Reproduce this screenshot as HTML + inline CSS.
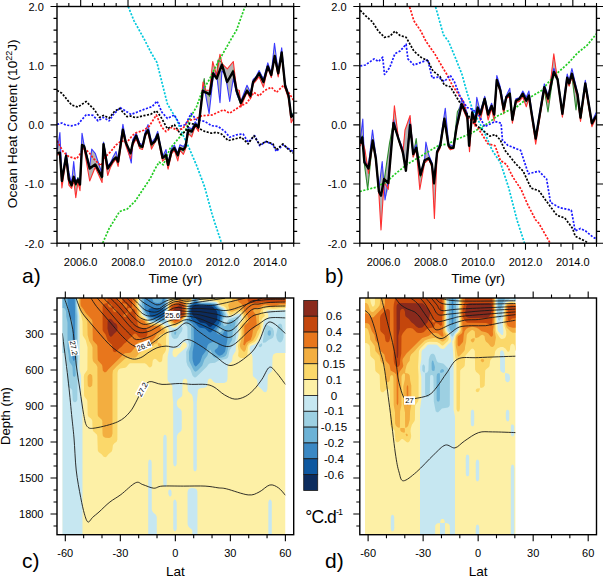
<!DOCTYPE html><html><head><meta charset="utf-8"><style>html,body{margin:0;padding:0;background:#fff;overflow:hidden}svg{display:block}</style></head><body><svg width="603" height="577" viewBox="0 0 603 577" font-family='"Liberation Sans", sans-serif'>
<rect width="603" height="577" fill="#fff"/>
<clipPath id="clip11"><rect x="57.0" y="6.5" width="236.7" height="236.7"/></clipPath>
<g clip-path="url(#clip11)" fill="none" stroke-linejoin="round"><polygon points="57.2,150.9 59.9,132.5 61.9,178.2 66.1,152.8 68.9,172.7 71.6,183.4 73.7,161.6 75.8,182.7 77.9,177.5 80.0,182.0 82.0,133.2 84.1,144.7 89.7,166.7 91.7,149.1 95.2,153.3 102.1,173.7 103.5,142.2 107.7,165.8 110.5,162.7 113.2,156.7 116.0,151.5 118.1,160.0 122.9,124.2 125.7,140.2 130.6,153.3 131.3,149.9 132.8,139.6 136.2,133.3 139.7,143.3 142.5,144.8 145.3,131.8 148.0,124.6 151.5,142.3 155.0,138.4 157.7,131.4 162.6,156.8 166.0,149.5 168.0,162.1 168.1,162.8 171.6,148.2 172.0,147.7 174.4,145.2 177.8,153.1 179.9,144.8 183.4,146.6 185.5,143.6 188.2,126.9 191.7,129.0 195.2,121.8 198.5,125.5 202.8,84.3 203.0,82.1 204.2,78.5 205.4,90.2 209.1,90.3 209.7,90.3 212.7,61.5 213.2,63.3 216.4,72.4 216.7,74.9 218.0,60.0 220.0,54.2 221.9,62.4 224.8,66.4 227.1,68.6 227.3,68.8 229.7,65.9 233.1,61.7 233.3,61.5 236.6,89.4 239.4,90.6 240.9,101.3 247.0,85.2 250.5,92.5 253.1,79.5 255.7,77.2 259.1,70.6 263.5,79.2 267.8,62.9 271.3,73.4 274.5,43.3 274.7,44.8 278.2,71.7 281.7,47.8 285.1,83.8 288.6,94.4 291.2,114.6 293.8,112.5 293.8,117.7 291.2,122.8 288.6,98.9 285.1,88.4 281.7,54.8 278.2,76.9 274.7,58.4 274.5,59.4 271.3,77.6 267.8,67.8 263.5,87.2 259.1,76.7 255.7,81.1 253.1,84.1 250.5,99.0 247.0,92.3 240.9,107.1 239.4,100.8 236.6,93.7 233.3,78.5 233.1,79.8 229.7,101.5 227.3,86.4 227.1,85.2 224.8,74.3 221.9,71.0 220.0,102.7 218.0,85.9 216.7,78.5 216.4,78.1 213.2,76.8 212.7,81.3 209.7,108.2 209.1,113.6 205.4,93.6 204.2,91.6 203.0,90.8 202.8,90.7 198.5,131.4 195.2,126.1 191.7,136.9 188.2,133.3 185.5,149.0 183.4,154.4 179.9,150.2 177.8,160.9 174.4,150.3 172.0,153.2 171.6,153.7 168.1,169.2 168.0,168.6 166.0,157.8 162.6,161.2 157.7,137.1 155.0,142.3 151.5,149.1 148.0,132.4 145.3,136.0 142.5,149.4 139.7,148.4 136.2,138.9 132.8,145.2 131.3,163.0 130.6,160.1 125.7,145.4 122.9,132.3 118.1,166.4 116.0,159.4 113.2,162.6 110.5,167.4 107.7,175.5 103.5,147.0 102.1,182.5 95.2,167.2 91.7,176.0 89.7,181.0 84.1,148.7 82.0,148.5 80.0,190.7 77.9,182.2 75.8,197.6 73.7,180.1 71.6,188.3 68.9,185.2 66.1,158.6 61.9,187.9 59.9,153.9 57.2,155.2" fill="#b4b4b4" stroke="none"/><polyline points="57.2,153.9 59.9,152.9 61.9,183.2 66.1,154.5 68.9,180.3 71.6,187.2 73.7,177.0 75.8,185.8 77.9,177.5 80.0,185.8 82.0,146.5 84.1,144.7 89.7,166.7 95.2,165.5 102.1,179.0 103.5,142.2 107.7,167.5 110.5,164.5 113.2,159.3 116.0,159.4 118.1,163.9 122.9,128.2 125.7,142.7 130.6,153.4 132.8,143.0 136.2,133.6 139.7,147.8 142.5,146.7 145.3,136.0 148.0,129.3 151.5,146.2 155.0,138.9 157.7,135.3 162.6,158.5 166.0,153.3 168.0,168.0 172.0,150.0 174.4,146.5 177.8,155.9 179.9,148.8 183.4,150.8 185.5,145.9 188.2,128.8 191.7,129.8 195.2,123.5 198.5,126.7 202.8,90.2 204.2,78.5 205.4,90.9 209.7,96.4 213.2,74.6 216.7,76.9 218.0,60.0 221.9,62.4 227.1,82.3 233.1,70.1 236.6,92.8 240.9,105.1 247.0,89.8 250.5,95.6 253.1,83.0 255.7,78.3 259.1,71.8 263.5,79.6 267.8,67.4 271.3,74.6 274.7,58.4 278.2,75.4 281.7,54.1 285.1,87.4 288.6,97.2 291.2,114.6 293.8,112.5" stroke="#2e8b2e" stroke-width="1.1"/><polyline points="57.2,150.9 59.9,132.5 61.9,178.2 66.1,152.8 68.9,172.7 71.6,183.4 73.7,161.6 75.8,182.7 77.9,178.2 80.0,182.0 82.0,133.2 84.1,145.2 89.7,166.9 91.7,149.1 95.2,153.3 102.1,173.7 103.5,142.2 107.7,165.8 110.5,162.7 113.2,156.7 116.0,151.5 118.1,160.0 122.9,124.2 125.7,140.2 131.3,163.0 132.8,139.6 136.2,133.3 139.7,143.3 142.5,144.8 145.3,131.8 148.0,124.6 151.5,142.3 155.0,138.4 157.7,131.4 162.6,156.8 166.0,149.5 168.1,162.8 171.6,148.2 174.4,145.2 177.8,153.1 179.9,144.8 183.4,146.6 185.5,143.6 188.2,126.9 191.7,129.0 195.2,121.8 198.5,125.5 203.0,85.8 205.4,93.6 209.1,113.6 213.2,76.8 216.4,72.4 220.0,102.7 221.9,71.0 224.8,73.6 227.1,85.2 229.7,101.5 233.3,78.5 236.6,93.7 239.4,100.3 240.9,101.3 247.0,85.2 250.5,92.5 253.1,79.5 255.7,77.2 259.1,70.6 263.5,79.2 267.8,62.9 271.3,73.4 274.5,43.3 278.2,71.7 281.7,47.8 285.1,83.8 288.6,94.4 291.2,115.0 293.8,113.7" stroke="#3a3aff" stroke-width="1.1"/><polyline points="57.2,155.2 59.9,153.9 61.9,187.9 66.1,158.6 68.9,185.2 71.6,188.3 73.7,180.1 75.8,197.6 77.9,182.2 80.0,190.7 82.0,148.5 84.1,148.7 89.7,181.0 95.2,167.2 102.1,182.5 103.5,147.0 107.7,175.5 110.5,167.4 113.2,162.6 116.0,159.4 118.1,166.4 122.9,132.3 125.7,145.4 130.6,158.7 132.8,145.2 136.2,138.9 139.7,148.4 142.5,149.4 145.3,136.0 148.0,132.4 151.5,149.1 155.0,142.3 157.7,137.1 162.6,161.2 166.0,157.8 168.1,169.2 171.6,153.7 174.4,150.3 177.8,160.9 179.9,150.2 183.4,154.4 185.5,149.0 188.2,133.3 191.7,136.9 195.2,126.1 198.5,131.4 203.0,82.1 205.4,90.2 209.7,90.3 212.7,61.5 216.7,75.7 220.0,54.2 221.9,63.6 227.3,68.8 233.3,61.5 236.6,89.4 239.4,90.6 240.9,107.1 247.0,92.3 250.5,99.0 253.1,84.1 255.7,81.1 259.1,76.7 263.5,87.2 267.8,67.8 271.3,77.6 274.7,57.4 278.2,76.9 281.7,54.8 285.1,88.4 288.6,98.9 291.2,122.8 293.8,117.7" stroke="#ff3030" stroke-width="1.1"/><polyline points="128.2,6.6 134.0,20.8 144.4,39.5 150.7,52.0 156.9,62.4 163.2,87.4 167.4,103.9 173.6,114.4 175.8,117.7 182.7,134.4 189.0,147.8 196.8,166.0 204.6,186.8 212.4,215.4 221.5,243.0" stroke="#00c8dc" stroke-width="1.7" stroke-dasharray="2.1 1.5"/><polyline points="102.7,243.0 109.2,228.4 119.6,211.5 127.4,208.9 135.2,201.1 145.6,185.5 150.0,179.0 155.0,169.0 159.1,162.1 163.3,164.9 170.2,148.2 178.5,138.5 185.5,130.2 191.0,116.3 196.6,106.6 201.9,92.0 208.9,80.3 215.8,66.4 224.5,50.8 231.4,38.7 236.6,30.0 245.0,6.5" stroke="#22cc22" stroke-width="1.7" stroke-dasharray="2.1 1.5"/><polyline points="57.1,140.8 63.3,151.9 68.9,156.7 76.5,158.8 82.7,150.5 85.5,149.1 89.7,153.3 93.8,158.8 98.0,163.0 100.8,165.8 104.9,157.4 110.5,151.9 116.0,145.0 121.5,140.8 127.1,142.2 132.6,135.3 135.5,133.0 143.9,130.2 149.4,126.0 156.3,115.0 161.9,127.4 166.0,131.6 171.6,127.4 177.1,130.2 182.7,128.8 188.2,120.5 195.2,119.1 201.9,115.8 212.3,114.9 223.6,109.7 229.7,113.2 240.1,106.3 247.0,102.8 253.9,92.4 259.1,95.9 264.3,90.7 271.3,87.2 276.5,92.4 283.4,85.5 288.6,92.4 294.0,101.0" stroke="#ff1a1a" stroke-width="1.7" stroke-dasharray="2.1 1.5"/><polyline points="57.1,124.4 61.9,123.0 66.1,125.1 71.6,125.8 77.9,124.4 86.2,114.7 93.1,115.4 98.0,120.9 103.5,117.4 109.1,120.9 113.2,114.7 120.2,107.7 127.1,111.9 131.0,114.5 136.9,112.2 143.9,109.4 152.2,106.6 157.0,101.1 161.9,112.2 167.4,118.4 174.4,115.0 180.6,126.0 185.5,124.7 191.0,113.6 196.6,119.8 198.3,119.9 205.0,121.6 211.6,125.7 218.2,126.5 224.9,131.5 229.8,137.3 236.5,134.8 243.1,134.0 248.1,142.3 254.7,135.7 259.7,145.6 266.3,141.5 272.9,144.8 276.3,151.4 282.9,144.8 292.8,151.4" stroke="#1a1aff" stroke-width="1.7" stroke-dasharray="2.1 1.5"/><polyline points="57.1,90.4 61.9,93.2 67.5,100.1 71.6,105.0 77.9,107.0 86.2,101.5 94.5,109.8 99.4,117.4 103.5,115.4 109.1,118.1 114.6,111.2 119.5,108.4 127.1,116.7 130.6,116.0 135.5,117.7 143.9,115.6 150.8,114.3 156.3,110.8 160.5,116.3 167.4,128.8 174.4,124.7 180.6,134.4 185.5,131.6 189.6,123.3 196.6,124.7 198.3,128.2 205.0,131.5 211.6,133.2 216.6,132.3 221.5,134.0 228.2,140.6 234.8,139.0 241.4,137.3 248.1,143.9 253.9,135.7 259.7,144.8 266.3,141.5 272.9,143.9 276.3,149.8 282.9,143.9 287.9,148.9 292.8,153.1" stroke="#000" stroke-width="1.7" stroke-dasharray="2.1 1.5"/><polyline points="57.2,153.3 59.9,152.6 61.9,181.0 66.1,156.0 68.9,179.6 71.6,185.2 73.7,176.8 75.8,183.8 77.9,179.6 80.0,184.5 82.0,145.0 84.1,146.3 89.7,168.5 95.2,164.4 102.1,176.8 103.5,144.3 107.7,168.5 110.5,164.4 113.2,160.2 116.0,157.4 118.1,161.6 122.9,129.7 125.7,142.2 130.6,153.3 132.8,142.7 136.2,135.8 139.7,145.5 142.5,146.8 145.3,134.4 148.0,130.2 151.5,144.1 155.0,141.3 157.7,134.4 162.6,157.9 166.0,155.2 168.1,164.9 171.6,151.0 174.4,148.2 177.8,155.2 179.9,148.2 183.4,149.6 185.5,146.8 188.2,130.2 191.7,131.6 195.2,124.7 198.5,127.1 202.8,90.7 205.4,92.4 209.7,94.1 213.2,73.3 216.7,78.5 221.9,64.7 227.1,82.0 233.1,71.6 236.6,90.7 240.9,102.8 247.0,90.7 250.5,95.9 253.1,82.0 255.7,78.5 259.1,73.3 263.5,82.0 267.8,66.4 271.3,75.1 274.7,56.0 278.2,73.3 281.7,52.5 285.1,85.5 288.6,95.9 291.2,116.7 293.8,114.9" stroke="#000" stroke-width="2.4"/></g>
<clipPath id="clip12"><rect x="359.8" y="6.5" width="236.7" height="236.7"/></clipPath>
<g clip-path="url(#clip12)" fill="none" stroke-linejoin="round"><polygon points="360.2,141.1 362.3,123.3 362.8,119.1 364.4,148.0 365.0,150.0 367.7,164.6 368.5,165.6 372.5,130.0 372.7,131.5 375.8,155.5 378.9,189.4 381.0,171.6 382.2,161.5 384.1,179.0 385.0,174.8 388.3,151.7 389.5,143.3 393.5,118.1 394.4,105.8 398.7,138.5 402.8,148.7 405.0,130.0 405.9,127.4 410.1,115.5 413.2,152.0 416.2,138.5 416.3,139.4 419.8,168.6 420.5,173.4 424.6,159.2 425.9,142.1 428.8,155.0 431.9,162.4 434.0,181.0 434.4,177.1 437.1,150.9 440.2,142.3 444.4,114.2 445.3,108.2 448.6,143.8 450.4,145.1 453.5,146.2 456.6,118.9 457.4,111.8 461.8,98.5 467.3,113.2 469.1,143.5 469.5,139.1 472.2,109.1 475.1,118.6 476.8,97.3 477.7,101.0 480.3,111.8 484.7,96.3 488.1,111.9 491.6,103.2 494.2,112.8 496.8,75.5 500.3,86.9 503.7,106.0 506.3,95.7 509.8,88.2 512.4,118.0 515.9,98.8 519.3,97.9 522.8,91.0 526.3,97.2 528.9,91.0 531.5,109.8 535.7,136.0 544.3,83.8 548.0,95.7 548.1,96.0 553.8,53.8 557.6,77.4 562.4,110.7 567.2,74.0 569.1,80.7 571.9,68.5 576.0,86.2 577.6,93.2 580.5,115.0 585.3,80.4 591.9,121.8 596.2,112.4 596.2,117.6 591.9,126.7 585.3,86.5 580.5,121.4 577.6,97.6 576.0,110.0 571.9,76.9 569.1,86.1 567.2,79.9 562.4,117.2 557.6,81.0 553.8,71.9 548.1,111.3 548.0,112.0 544.3,89.5 535.7,144.2 531.5,115.3 528.9,98.1 526.3,106.8 522.8,96.9 519.3,101.4 515.9,103.0 512.4,123.2 509.8,96.1 506.3,98.5 503.7,113.8 500.3,92.1 496.8,81.8 494.2,120.9 491.6,108.6 488.1,120.0 484.7,101.2 480.3,120.4 477.7,109.7 476.8,115.5 475.1,126.4 472.2,114.7 469.5,151.8 469.1,145.9 467.3,119.6 461.8,106.3 457.4,125.3 456.6,128.7 453.5,148.8 450.4,149.6 448.6,147.6 445.3,126.0 444.4,120.1 440.2,147.9 437.1,153.9 434.4,218.5 434.0,210.3 431.9,167.1 428.8,159.4 425.9,161.9 424.6,163.0 420.5,185.6 419.8,189.4 416.3,149.8 416.2,150.0 413.2,157.1 410.1,125.0 405.9,170.7 405.0,165.3 402.8,153.8 398.7,140.8 394.4,125.8 393.5,122.9 389.5,172.9 388.3,189.3 385.0,200.0 384.1,187.6 382.2,211.4 381.0,229.9 378.9,193.9 375.8,160.1 372.7,143.0 372.5,144.4 368.5,181.6 367.7,189.4 365.0,168.8 364.4,164.2 362.8,143.4 362.3,140.8 360.2,146.3" fill="#b4b4b4" stroke="none"/><polyline points="360.2,142.0 362.3,135.9 364.4,164.2 367.7,189.4 372.7,140.6 375.8,158.2 378.9,192.2 381.0,195.7 384.1,181.1 389.5,143.3 393.5,122.5 398.7,140.8 402.8,149.8 405.9,168.5 410.1,123.1 413.2,156.4 416.2,138.5 420.5,176.9 424.6,161.6 428.8,157.3 431.9,164.9 434.0,184.5 437.1,151.0 440.2,146.5 444.4,118.6 448.6,147.0 450.4,149.6 453.5,146.3 457.4,111.8 461.8,104.8 467.3,118.6 469.1,145.4 472.2,113.2 475.1,122.0 477.7,106.6 480.3,113.7 484.7,97.3 488.1,113.6 491.6,108.1 494.2,115.3 496.8,80.6 500.3,88.3 503.7,111.7 506.3,96.9 509.8,92.4 512.4,120.4 515.9,103.0 519.3,98.4 522.8,94.8 526.3,100.8 528.9,96.3 531.5,112.1 535.7,140.6 544.3,89.5 548.0,112.0 553.8,70.7 557.6,77.4 562.4,112.2 567.2,77.0 569.1,85.6 571.9,75.6 576.0,110.0 577.6,94.9 580.5,119.8 585.3,84.9 591.9,125.4 596.2,114.2" stroke="#2e8b2e" stroke-width="1.1"/><polyline points="360.2,141.1 362.8,119.1 364.4,160.5 368.5,165.6 372.5,130.0 375.8,155.5 378.9,189.4 382.2,161.5 385.0,200.0 388.3,180.5 393.5,119.1 398.7,138.5 402.8,148.7 405.9,169.5 410.1,118.6 413.2,152.0 416.3,144.8 420.5,173.4 424.6,159.2 425.9,142.1 428.8,155.0 431.9,162.4 434.0,181.0 437.1,150.9 440.2,142.3 445.3,108.2 448.6,143.8 450.4,145.1 453.5,146.2 456.6,124.7 461.8,98.5 467.3,113.2 469.1,143.5 472.2,109.1 475.1,118.6 476.8,97.3 480.3,111.8 484.7,96.3 488.1,111.9 491.6,103.2 494.2,112.8 496.8,75.5 500.3,86.9 503.7,106.0 506.3,95.7 509.8,88.2 512.4,118.0 515.9,98.8 519.3,97.9 522.8,91.0 526.3,97.2 528.9,91.0 531.5,109.8 535.7,136.0 544.3,83.8 548.1,96.0 553.8,68.3 557.6,78.2 562.4,110.7 567.2,74.0 569.1,80.7 571.9,68.5 577.6,93.2 580.5,115.0 585.3,80.4 591.9,121.8 596.2,112.4" stroke="#3a3aff" stroke-width="1.1"/><polyline points="360.2,146.3 362.3,140.8 365.0,150.0 368.5,173.5 372.7,143.0 375.8,160.1 378.9,193.9 381.0,229.9 384.1,182.0 388.3,189.3 394.4,105.8 398.7,140.7 402.8,153.8 405.0,130.0 410.1,115.5 413.2,157.1 416.3,149.8 419.8,189.4 424.6,163.0 428.8,159.4 431.9,167.1 434.4,218.5 437.1,153.9 440.2,147.9 444.4,120.1 448.6,147.6 450.4,149.6 453.5,148.8 456.6,128.7 461.8,106.3 467.3,119.6 469.5,151.8 472.2,114.7 475.1,126.4 477.7,109.7 480.3,120.4 484.7,101.2 488.1,120.0 491.6,108.6 494.2,120.9 496.8,81.8 500.3,92.1 503.7,113.8 506.3,98.5 509.8,96.1 512.4,123.2 515.9,102.4 519.3,101.4 522.8,96.9 526.3,106.8 528.9,98.1 531.5,115.3 535.7,144.2 544.3,88.9 548.1,102.7 553.8,53.8 557.6,81.0 562.4,117.2 567.2,79.9 569.1,86.1 571.9,76.9 577.6,97.6 580.5,121.4 585.3,86.5 591.9,126.7 596.2,117.6" stroke="#ff3030" stroke-width="1.1"/><polyline points="435.6,6.9 443.4,34.7 448.6,41.6 455.2,57.3 462.1,74.7 467.3,93.7 472.5,109.3 477.4,118.7 485.8,135.4 492.0,149.9 500.3,162.4 508.6,187.4 517.0,220.0 524.5,243.2" stroke="#00c8dc" stroke-width="1.7" stroke-dasharray="2.1 1.5"/><polyline points="359.8,191.5 367.5,189.4 375.8,187.3 386.2,182.1 396.6,172.8 407.0,164.4 417.4,158.2 427.8,152.0 438.2,145.7 448.6,143.7 455.2,140.0 462.1,137.1 470.8,133.6 479.5,128.4 488.1,123.2 496.8,116.3 507.2,111.1 515.9,107.6 524.5,100.7 533.2,95.5 541.9,90.3 549.1,81.5 558.6,71.9 568.1,63.4 577.6,52.9 587.2,45.2 596.7,33.5" stroke="#22cc22" stroke-width="1.7" stroke-dasharray="2.1 1.5"/><polyline points="409.6,6.9 413.9,20.8 420.9,31.2 426.1,41.6 434.7,53.7 441.7,65.9 446.9,74.5 452.1,84.9 456.9,92.0 463.9,102.4 467.0,116.6 477.4,127.0 487.8,143.7 495.1,145.8 500.3,160.3 506.6,164.5 512.8,177.0 521.1,189.4 527.4,204.0 535.7,220.0 538.8,223.2 549.2,241.4 550.0,243.2" stroke="#ff1a1a" stroke-width="1.7" stroke-dasharray="2.1 1.5"/><polyline points="360.2,65.9 365.4,65.0 374.1,58.9 378.4,61.5 382.7,57.2 384.5,74.5 389.7,67.6 394.9,53.7 400.1,51.1 406.1,44.2 407.9,58.9 413.9,65.0 420.9,62.4 427.8,59.8 432.1,78.0 438.2,77.1 444.3,81.5 450.3,75.4 454.3,81.6 460.4,97.2 467.3,107.6 472.5,109.3 478.6,114.5 484.7,126.7 495.1,121.5 501.1,123.2 502.4,140.0 507.6,145.2 520.6,150.4 528.4,173.8 538.8,171.2 546.6,179.0 550.5,202.4 559.6,207.6 571.3,210.2 575.2,231.0 580.4,228.4 585.6,231.0 593.4,237.5 596.7,238.8" stroke="#1a1aff" stroke-width="1.7" stroke-dasharray="2.1 1.5"/><polyline points="360.2,10.4 365.4,15.6 372.3,21.7 378.4,31.2 384.5,37.3 389.7,36.4 394.9,31.2 400.1,35.5 406.1,37.3 413.9,51.1 420.9,57.2 427.8,60.7 433.0,71.1 439.9,76.3 444.3,84.9 450.3,86.7 458.7,100.7 467.3,114.5 476.0,124.9 484.7,131.9 489.9,136.2 495.1,134.5 500.3,140.0 505.0,150.4 515.4,163.4 523.2,171.2 531.0,188.1 538.8,190.7 549.2,205.0 557.0,215.4 564.8,218.0 572.6,228.4 575.2,236.2 585.6,241.4 588.0,243.2" stroke="#000" stroke-width="1.7" stroke-dasharray="2.1 1.5"/><polyline points="360.2,143.7 362.3,137.4 364.4,162.4 368.5,168.6 372.7,140.5 375.8,158.2 378.9,191.5 381.0,195.6 384.1,179.0 388.3,183.2 393.5,122.9 398.7,139.5 402.8,152.0 405.9,170.7 410.1,125.0 413.2,154.1 416.3,147.8 420.5,174.8 424.6,160.3 428.8,158.2 431.9,164.4 434.0,183.2 437.1,152.0 440.2,145.7 444.4,118.7 448.6,145.7 450.4,147.8 453.5,147.8 456.6,127.0 461.8,104.2 467.3,116.3 469.1,145.8 472.2,112.5 475.1,121.5 477.7,107.6 480.3,114.5 484.7,98.9 488.1,114.5 491.6,105.9 494.2,114.5 496.8,79.9 500.3,90.3 503.7,109.3 506.3,97.2 509.8,93.7 512.4,119.7 515.9,100.7 519.3,98.9 522.8,93.7 526.3,100.7 528.9,95.5 531.5,112.8 535.7,138.6 544.3,87.2 548.1,98.6 553.8,71.9 557.6,79.6 562.4,113.9 567.2,77.6 569.1,83.4 571.9,73.8 577.6,94.8 580.5,117.7 585.3,83.4 591.9,123.4 596.2,115.8" stroke="#000" stroke-width="2.4"/></g>
<clipPath id="fc"><rect x="62.5" y="298.0" width="223.0" height="236.7"/></clipPath><g clip-path="url(#fc)"><rect x="62.5" y="298.0" width="223.0" height="236.7" fill="#fdf0a6"/><path fill="#c6e7f1" fill-rule="evenodd" d="M61.2,295.5L77.5,295.5L77.6,305.3L79.5,316.4L79.8,357.1L79.5,369.4L81.1,375.5L81.2,395.2L82.5,402.6L82.5,540.5L60.0,540.5L60.0,295.5L61.2,295.5ZM139.9,295.5L168.6,295.5L168.5,300.4L167.5,306.6L167.6,321.4L168.2,323.6L169.4,325.0L171.9,327.3L173.2,327.7L175.6,327.6L176.8,327.1L179.3,325.0L181.8,323.8L182.8,322.6L183.9,320.1L186.7,317.1L187.3,315.2L187.7,305.3L188.1,304.1L191.0,301.7L191.9,300.4L192.2,295.5L198.9,295.5L199.0,299.3L199.5,300.4L201.4,301.3L212.5,301.5L216.2,302.1L217.4,302.9L219.9,306.1L223.5,307.8L224.8,308.9L226.4,311.5L228.5,316.2L229.7,316.9L232.1,316.4L238.3,313.7L239.6,313.6L241.3,315.2L241.6,316.4L241.4,318.9L238.4,325.0L238.6,334.9L236.1,344.7L235.7,350.9L232.7,355.8L232.1,360.8L231.3,362.0L228.5,364.2L227.7,365.7L227.5,379.2L226.6,381.7L224.8,382.8L223.6,383.0L216.0,382.9L213.7,382.1L211.5,379.2L210.1,378.6L208.8,379.0L207.8,380.4L207.3,385.4L206.4,386.9L204.4,387.8L200.2,388.2L198.7,389.1L197.9,390.3L196.8,402.6L196.8,467.9L196.5,470.3L195.3,471.4L194.1,471.0L193.6,470.3L193.3,467.9L193.3,402.6L192.6,396.5L191.6,394.4L188.3,391.5L187.7,390.3L187.2,380.4L186.7,379.6L185.5,378.7L184.2,378.8L183.0,380.1L182.6,381.7L182.3,395.2L181.7,396.5L178.1,399.3L176.9,401.4L176.8,403.8L177.3,406.3L178.2,407.5L180.5,409.3L181.7,411.2L181.8,428.5L181.2,430.9L178.1,433.6L176.9,435.9L176.7,464.2L175.6,466.2L174.4,466.2L173.7,465.4L173.2,462.9L173.2,402.6L172.5,395.2L172.4,386.6L171.4,384.1L168.4,381.7L167.5,379.2L167.6,357.1L169.0,349.7L168.8,336.1L169.1,330.0L168.1,327.5L162.1,323.7L159.6,323.1L152.2,322.8L149.8,322.2L148.6,321.3L146.1,318.1L142.7,315.2L141.2,310.3L138.8,305.3L139.4,295.5L139.9,295.5ZM184.1,342.3L183.0,342.6L182.1,343.5L180.5,347.2L179.3,347.9L174.7,348.4L173.2,349.7L172.5,352.1L172.6,354.6L172.9,355.8L174.1,357.1L175.6,357.2L176.8,356.3L178.1,354.6L186.3,347.2L186.9,346.0L186.7,344.1L185.5,342.6L184.1,342.3ZM269.1,310.3L290.0,310.0L290.0,353.0L276.5,353.0L274.9,353.4L273.3,354.6L272.5,357.1L272.2,370.6L271.5,371.8L268.4,374.3L267.8,375.5L267.4,389.1L266.6,391.5L265.4,392.3L264.2,392.1L263.4,391.5L261.4,389.1L258.4,386.6L257.7,385.4L257.2,380.4L256.5,379.2L253.5,376.8L252.8,375.5L252.5,357.1L251.8,354.6L249.8,350.9L249.7,348.4L250.4,346.0L255.6,343.9L258.0,341.5L259.9,338.6L262.1,332.4L263.8,321.4L264.6,320.1L267.8,317.7L268.4,316.4L268.2,314.0L266.2,311.5L266.6,310.7L269.1,310.3ZM164.5,434.7L165.8,434.9L166.4,435.9L166.7,438.3L166.7,483.9L166.6,485.1L165.8,486.5L164.5,486.4L163.5,485.1L163.2,482.6L163.2,438.3L163.6,435.9L164.5,434.7ZM149.8,459.6L151.3,460.5L151.7,462.9L151.8,509.7L152.9,512.2L155.9,514.7L156.8,517.1L156.8,540.5L148.2,540.5L148.2,462.9L148.6,460.6L149.8,459.6ZM189.1,488.7L191.6,488.0L195.3,488.4L196.5,489.3L197.4,491.3L197.5,540.5L192.5,540.5L192.3,530.7L191.6,529.3L188.7,527.0L187.6,524.5L187.5,492.5L188.0,490.0L189.1,488.7ZM169.5,489.4L170.7,489.8L171.5,491.3L171.6,494.9L170.7,496.5L169.3,496.2L168.3,493.7L168.3,491.3L168.7,490.0L169.5,489.4ZM174.4,499.5L175.8,499.9L176.7,502.3L176.8,528.2L176.6,529.4L175.6,531.2L174.4,531.2L173.8,530.7L173.2,528.2L173.3,502.3L173.4,501.1L174.4,499.5ZM270.3,499.6L271.6,501.0L271.8,502.3L271.8,540.5L268.3,540.5L268.3,502.3L269.1,500.0L270.3,499.6Z"/><path fill="#9dd0e2" fill-rule="evenodd" d="M61.2,295.5L76.7,295.5L76.8,305.3L78.1,316.4L78.1,359.5L77.5,368.1L78.5,376.8L77.5,381.7L77.3,400.1L76.0,402.0L74.8,402.3L73.5,401.7L72.7,400.1L72.2,390.3L71.4,389.1L68.6,386.9L67.7,385.4L67.5,366.9L66.4,362.0L65.9,355.8L64.9,353.8L63.7,353.1L60.0,353.0L60.0,295.5L61.2,295.5ZM141.2,295.5L167.5,295.5L167.4,300.4L166.8,305.3L166.8,316.4L166.5,320.1L165.8,322.7L164.5,323.2L160.9,322.4L152.2,321.9L150.2,321.4L148.8,320.1L143.6,314.2L142.0,309.0L140.1,305.3L140.8,300.4L140.9,295.5L141.2,295.5ZM194.1,295.5L197.9,295.5L198.3,300.4L200.2,302.0L215.0,302.7L217.1,304.1L219.0,306.6L223.0,309.0L224.9,311.5L226.4,315.2L226.3,316.4L224.0,318.9L223.4,320.1L223.6,322.2L224.8,323.6L226.0,323.4L228.5,319.6L229.5,318.9L238.3,316.3L239.0,317.7L237.0,325.0L235.9,338.0L235.3,341.1L234.7,342.6L229.7,350.0L228.2,357.1L227.3,358.2L226.0,359.0L218.7,360.5L215.0,362.8L210.2,363.2L208.8,363.9L206.5,366.9L201.4,372.0L196.5,376.8L195.3,377.4L194.1,377.2L192.5,375.5L190.4,369.5L187.6,365.7L186.4,362.0L186.2,352.1L186.5,350.9L188.4,347.2L189.0,344.7L187.5,338.6L187.4,327.5L187.0,326.3L184.6,323.8L184.3,322.6L185.0,320.1L186.7,318.4L187.7,316.4L187.9,309.0L188.4,305.3L189.1,304.0L192.0,301.7L192.8,299.2L192.9,295.5L194.1,295.5ZM280.2,323.6L281.4,324.2L282.0,325.0L283.7,334.9L283.5,337.4L282.6,340.2L281.4,341.9L280.2,342.4L278.9,342.1L277.7,340.8L276.7,338.6L276.1,334.9L277.3,330.0L278.0,325.0L278.9,324.0L280.2,323.6ZM265.4,325.0L266.6,324.6L272.8,328.3L273.9,331.2L274.0,334.9L273.1,337.4L271.8,338.6L268.9,339.8L265.4,342.5L262.9,342.7L262.8,341.1L265.4,325.0ZM179.3,327.3L180.5,326.4L181.8,326.5L182.4,327.5L182.5,328.7L181.9,331.2L179.3,334.8L178.0,337.4L176.8,338.5L174.4,339.0L173.2,338.5L171.9,337.1L171.3,334.9L171.3,332.4L171.9,330.3L173.2,329.5L178.1,328.3L179.3,327.3ZM261.7,343.3L262.1,343.5L262.2,344.7L261.9,346.0L260.5,347.2L259.3,347.0L258.7,346.0L259.2,344.7L261.7,343.3Z"/><path fill="#6cb2d6" fill-rule="evenodd" d="M61.2,295.5L75.9,295.5L75.9,305.3L76.8,316.4L76.8,358.3L76.5,362.0L75.3,366.9L75.7,374.3L75.6,375.5L74.8,376.8L73.5,376.6L72.9,375.5L72.5,366.9L72.1,365.7L69.6,362.0L68.9,359.5L68.6,354.6L67.5,348.4L67.5,322.6L66.3,316.4L66.1,311.5L64.9,308.7L63.7,308.1L60.0,308.0L60.0,295.5L61.2,295.5ZM143.6,295.5L166.3,295.5L165.9,305.3L166.2,315.2L165.8,318.6L164.5,321.1L163.3,321.5L154.7,321.3L151.0,320.6L149.8,319.8L144.9,313.6L141.9,305.3L142.5,295.5L143.6,295.5ZM194.1,295.5L197.0,295.5L197.3,300.4L199.0,302.3L201.4,303.0L210.1,303.0L215.0,303.7L216.2,304.5L218.7,307.5L222.6,310.3L224.5,314.0L224.8,315.2L222.4,320.1L222.4,322.6L223.6,325.6L224.8,326.2L226.0,325.8L227.3,324.6L229.7,321.0L231.0,320.2L234.7,319.9L235.7,321.4L234.7,327.5L232.7,331.2L232.2,339.8L228.6,346.0L226.9,353.4L225.7,355.8L223.8,357.1L221.1,357.8L215.0,357.8L213.7,357.1L212.7,355.8L211.0,350.9L210.1,349.6L208.8,351.6L207.3,355.8L204.5,359.5L202.2,365.7L197.8,370.2L196.5,371.3L195.3,371.7L194.1,370.8L192.8,368.6L189.1,360.8L188.9,352.1L191.2,344.7L191.1,327.5L190.4,325.0L186.9,322.6L186.2,321.4L187.9,318.3L188.5,316.4L188.5,309.0L189.1,305.3L192.8,301.7L193.6,299.2L193.6,295.5L194.1,295.5ZM219.7,328.7L218.4,330.0L218.4,331.2L219.9,332.3L221.1,331.8L222.0,330.0L221.1,328.6L219.7,328.7ZM175.6,331.2L176.4,332.4L175.6,334.8L174.4,334.4L174.2,333.7L174.4,332.0L175.6,331.2ZM267.9,331.2L269.1,330.2L270.3,330.6L270.7,331.2L270.9,333.7L270.3,335.4L269.1,335.8L267.9,334.9L267.6,333.7L267.9,331.2Z"/><path fill="#3a88c4" fill-rule="evenodd" d="M68.6,295.5L74.7,295.5L75.1,315.2L74.9,358.3L74.8,360.2L73.5,360.9L72.6,358.3L72.6,322.6L72.1,320.1L69.8,317.1L69.1,315.2L68.8,310.3L67.5,302.9L67.5,295.5L68.6,295.5ZM144.9,295.5L152.5,295.5L152.5,299.2L153.4,301.7L154.7,302.6L157.2,303.0L159.6,302.8L161.6,301.7L162.6,299.2L162.6,295.5L164.6,295.5L164.6,304.1L165.5,314.0L164.5,318.4L163.3,319.6L159.6,320.3L154.1,320.1L151.0,319.1L148.6,316.4L145.5,311.5L144.7,309.0L144.1,304.1L144.5,295.5L144.9,295.5ZM195.3,295.5L195.6,295.5L195.6,299.2L196.0,300.4L198.2,302.9L201.4,303.7L210.1,303.8L213.7,304.2L215.0,304.7L217.7,307.8L221.1,310.3L222.4,312.7L222.9,315.2L221.6,318.9L220.9,325.0L216.9,328.7L216.1,331.2L216.4,332.4L217.2,333.7L218.7,334.5L221.1,334.6L222.8,333.7L224.8,330.6L226.0,330.0L227.3,331.2L227.5,337.4L227.4,339.8L225.2,350.9L224.8,352.1L222.6,354.6L219.9,355.7L218.7,355.4L217.3,354.6L214.9,352.1L214.6,350.9L215.0,350.0L217.4,348.1L218.5,346.0L218.4,344.7L217.4,343.0L215.0,341.8L212.5,342.1L210.1,343.0L208.8,343.8L207.6,345.3L205.8,350.9L202.3,355.8L200.2,362.1L196.5,366.1L195.3,366.5L193.9,364.4L192.8,360.8L192.5,358.3L192.6,352.1L193.9,344.7L193.7,326.3L192.4,323.8L189.6,321.4L188.9,320.1L189.3,316.4L189.0,310.3L189.4,306.6L190.0,305.3L192.9,302.9L194.6,300.4L194.9,299.2L195.0,295.5L195.3,295.5ZM231.0,324.8L231.2,325.0L231.0,326.2L230.5,325.0L231.0,324.8Z"/><path fill="#0e58a0" fill-rule="evenodd" d="M195.3,302.3L197.8,303.8L200.2,304.5L210.1,304.7L213.7,305.3L220.2,311.5L220.9,315.2L219.4,322.6L218.7,324.0L216.2,326.3L211.3,332.0L210.1,332.5L208.8,332.1L205.1,328.6L200.2,327.8L199.0,327.3L191.3,318.9L190.4,316.1L189.8,311.5L190.3,306.6L191.3,305.3L195.3,302.3ZM149.8,308.4L152.2,308.0L160.9,308.0L163.3,308.4L164.1,310.3L164.4,312.7L164.1,315.2L163.5,316.4L160.9,317.5L157.2,317.9L154.7,317.7L151.0,316.5L149.8,315.2L148.2,310.3L148.8,309.0L149.8,308.4Z"/><path fill="#0c2c5e" fill-rule="evenodd" d="M195.3,304.8L200.2,305.8L208.8,305.9L212.2,306.6L213.7,307.7L217.0,311.5L217.5,314.0L217.1,320.1L216.2,321.6L211.3,326.4L210.1,327.0L208.8,326.5L206.4,324.0L205.1,323.3L200.2,322.6L192.8,315.5L191.4,312.7L191.2,309.0L191.6,307.7L192.6,306.6L195.3,304.8Z"/><path fill="#fbd86a" fill-rule="evenodd" d="M78.4,295.5L138.1,295.5L137.7,305.3L140.0,310.3L141.0,315.2L142.0,316.4L145.6,318.9L148.6,322.5L149.8,323.2L159.6,323.9L162.1,324.9L166.1,328.7L166.9,330.0L167.2,331.2L166.1,337.4L166.0,349.7L165.1,352.1L163.2,354.6L162.7,355.8L162.1,360.8L161.1,362.0L159.6,362.3L159.0,362.0L155.9,358.9L154.7,358.7L153.5,359.4L152.7,360.8L152.1,365.7L151.0,367.1L149.8,367.4L148.6,366.8L146.7,364.4L144.9,363.2L130.1,363.2L128.9,363.9L126.4,366.9L125.2,367.7L120.3,368.4L119.0,369.2L118.0,370.6L117.5,373.1L117.4,439.5L116.6,441.7L114.1,443.6L112.9,445.3L112.4,449.4L111.7,451.6L108.4,454.3L106.7,456.5L105.5,457.3L103.7,456.8L101.6,454.3L98.6,451.9L97.8,450.6L97.3,435.9L96.8,434.6L93.0,430.9L92.5,428.5L92.3,421.1L91.9,419.8L90.9,418.6L88.3,416.5L87.7,414.9L87.4,401.4L87.1,400.0L84.6,396.7L84.1,395.2L83.8,376.8L84.3,374.3L87.0,370.6L87.4,369.4L87.5,347.2L85.8,340.2L83.1,336.1L82.7,334.9L82.5,321.4L81.1,315.2L78.4,306.2L78.4,295.5ZM170.7,295.5L191.5,295.5L191.4,299.2L191.0,300.4L187.9,302.9L187.2,304.1L186.8,307.8L186.8,314.0L186.3,316.4L183.9,318.9L181.3,322.6L175.6,326.3L174.4,326.4L173.2,326.0L170.7,323.7L168.9,321.4L168.4,318.9L168.2,306.5L170.1,299.2L170.1,295.5L170.7,295.5ZM200.2,295.5L290.0,295.5L290.0,308.0L281.4,308.0L274.0,308.7L266.6,308.3L265.4,308.4L264.0,309.0L263.1,310.3L262.9,311.5L263.2,312.7L264.9,315.2L264.4,316.4L262.8,317.7L261.7,319.4L261.4,327.5L260.5,331.1L257.8,337.4L255.6,341.1L254.1,342.3L249.4,344.4L248.3,346.0L247.7,349.7L247.4,354.6L247.0,356.2L245.7,357.4L244.5,357.9L240.8,357.9L238.9,357.1L238.1,355.8L238.6,350.9L237.8,346.0L240.7,334.9L240.7,331.2L239.9,326.3L240.1,325.0L243.3,320.1L243.1,316.4L242.3,314.0L240.8,312.3L239.6,311.8L234.7,313.1L231.0,314.9L229.7,314.6L226.0,307.7L223.6,306.0L221.1,305.3L219.9,304.1L218.7,301.9L217.4,301.0L213.7,300.4L201.4,300.0L200.4,299.2L200.2,295.5Z"/><path fill="#f3ae40" fill-rule="evenodd" d="M79.7,295.5L136.8,295.5L136.6,305.3L138.6,310.3L139.4,315.2L139.9,316.5L141.2,317.7L144.9,319.5L147.3,322.8L148.6,323.8L151.0,324.4L159.6,324.8L160.9,325.4L164.6,330.0L164.9,331.2L164.5,332.5L163.3,333.6L160.0,334.9L159.0,336.1L157.2,343.2L154.7,343.8L151.2,347.2L149.8,348.1L143.6,349.7L138.7,354.0L136.3,357.1L135.0,357.7L126.4,358.1L125.2,358.4L116.6,366.4L112.9,370.6L112.5,374.3L112.5,433.4L111.7,436.5L110.4,437.5L109.2,437.9L105.5,437.8L103.9,437.1L102.9,435.9L102.5,433.4L102.3,421.1L101.8,419.7L98.1,416.2L97.7,414.9L97.4,366.9L96.2,364.4L93.6,362.0L92.9,360.8L92.5,358.3L92.5,347.2L91.5,344.7L89.2,341.1L87.6,334.9L87.3,321.4L84.6,317.1L79.7,307.2L79.3,305.3L79.2,300.4L79.2,295.5L79.7,295.5ZM176.8,295.5L184.2,295.5L184.2,298.6L185.5,299.9L185.8,295.5L190.6,295.5L190.5,299.2L189.1,300.9L186.7,301.7L186.3,304.1L186.2,314.0L185.5,316.4L182.8,318.9L180.5,322.0L175.6,324.7L174.4,324.8L170.7,321.7L169.5,319.6L168.8,315.2L168.9,307.8L169.5,304.4L170.7,302.2L175.2,300.4L175.9,299.2L176.1,295.5L176.8,295.5ZM233.4,295.5L290.0,295.5L290.0,306.3L281.4,306.3L272.8,307.3L265.4,306.6L264.2,306.9L262.7,307.8L260.9,310.3L259.1,315.2L258.9,320.1L259.8,323.8L259.9,326.3L259.3,328.2L257.3,331.2L255.7,336.1L253.1,340.5L248.2,343.5L246.8,346.0L245.7,349.9L244.5,351.7L243.3,351.5L240.7,348.4L239.8,346.0L239.8,344.7L242.4,336.1L242.5,331.2L241.8,326.3L242.1,325.0L245.3,321.4L245.7,320.1L245.6,318.9L243.2,312.7L240.8,309.6L239.6,308.9L232.2,311.7L231.0,311.8L229.7,310.6L228.2,305.3L228.6,304.1L231.0,302.3L232.2,300.6L232.5,295.5L233.4,295.5ZM158.4,343.1L160.1,343.5L161.5,344.7L161.6,346.0L160.9,347.0L159.6,347.3L158.1,346.0L157.6,343.5L158.4,343.1ZM89.5,374.1L90.7,373.9L92.2,375.5L92.5,380.4L92.2,385.4L90.7,387.1L89.5,387.2L88.3,386.4L87.8,385.4L87.6,380.4L87.6,376.8L88.0,375.5L89.5,374.1Z"/><path fill="#e8761c" fill-rule="evenodd" d="M80.9,295.5L135.4,295.5L135.3,305.3L137.1,310.3L137.6,315.2L138.7,317.9L139.9,319.2L143.6,320.6L144.7,321.4L146.1,323.8L148.6,325.3L151.0,325.8L159.5,326.3L160.5,327.5L161.2,330.0L160.4,331.2L157.2,333.4L154.7,337.7L151.0,341.8L147.3,345.0L146.1,345.8L144.9,345.8L142.4,342.9L141.4,342.3L139.9,342.0L138.6,342.3L137.1,343.5L135.3,347.2L131.3,352.0L130.1,352.7L125.2,353.2L124.0,353.7L108.2,369.4L106.7,371.5L105.5,372.3L104.3,372.2L102.8,370.6L102.3,365.7L101.7,364.4L98.2,360.8L97.7,359.5L97.4,346.0L96.9,344.7L93.4,341.1L92.8,339.8L92.5,322.6L92.1,320.1L85.8,313.1L83.3,309.0L80.9,306.0L80.5,304.1L80.5,300.4L80.5,295.5L80.9,295.5ZM179.3,295.5L180.8,295.5L180.9,299.2L181.6,300.4L184.2,302.7L185.2,304.1L185.5,306.6L185.5,314.3L184.3,316.4L179.6,321.4L175.6,323.0L174.4,322.9L171.3,320.1L170.0,317.7L169.4,314.0L169.8,307.8L170.4,305.3L171.4,304.1L175.6,302.5L178.4,300.4L179.1,299.2L179.3,295.5ZM238.3,295.5L290.0,295.5L290.0,304.2L280.2,304.3L275.2,305.7L272.8,305.8L269.1,305.5L265.4,304.6L264.2,304.7L259.3,307.6L255.6,308.2L253.8,309.0L253.1,310.3L253.4,311.5L255.4,314.0L255.9,315.2L256.8,325.0L256.3,326.3L253.0,330.0L252.1,336.1L250.7,339.8L246.5,342.3L244.5,345.6L243.3,344.7L244.4,336.1L244.3,326.3L245.0,325.0L247.9,322.6L248.5,321.4L248.6,318.9L247.4,315.2L244.2,310.3L242.4,305.3L241.5,304.1L238.4,301.7L237.8,300.4L237.5,295.5L238.3,295.5Z"/><path fill="#c4460c" fill-rule="evenodd" d="M108.0,295.5L117.5,295.5L117.8,300.5L119.0,302.2L121.5,302.9L122.5,301.7L122.5,295.5L132.5,295.5L132.2,307.8L127.6,308.2L127.6,312.7L124.0,313.9L123.3,315.2L123.5,316.4L125.2,317.3L126.4,316.7L127.2,315.2L127.6,312.8L130.1,312.6L131.3,311.8L132.2,310.3L132.6,308.4L133.8,308.7L135.1,310.3L135.7,316.4L137.3,321.4L137.7,325.0L138.2,326.3L139.9,327.7L144.9,328.2L145.9,328.7L147.0,330.0L147.4,331.2L147.5,333.7L146.9,336.1L146.1,337.1L144.9,337.8L139.9,337.7L138.7,337.0L136.3,334.0L135.0,333.6L133.8,334.0L131.3,337.0L128.9,338.8L126.4,341.9L124.0,343.8L121.5,346.8L119.0,348.7L116.6,351.6L115.3,352.3L114.1,352.1L113.0,350.9L111.9,344.7L107.8,341.1L105.5,334.5L103.1,331.2L102.6,330.0L102.6,306.6L103.0,305.0L104.3,303.7L107.5,302.9L107.5,295.5L108.0,295.5ZM107.6,304.1L108.0,305.6L109.2,307.2L112.0,307.8L112.3,306.6L112.1,305.3L111.2,304.1L110.4,303.6L108.0,303.2L107.6,304.1ZM122.6,304.1L122.8,305.3L124.0,307.0L125.2,307.7L127.2,307.8L127.1,305.3L126.3,304.1L124.0,303.2L122.7,303.3L122.6,304.1ZM112.6,309.0L112.9,310.4L114.1,312.0L115.3,312.2L116.5,311.5L116.8,310.3L115.3,308.6L112.9,308.3L112.6,309.0ZM248.2,295.5L290.0,295.5L290.0,301.6L280.2,301.7L272.8,303.0L265.4,301.8L258.0,303.0L250.6,302.9L248.4,301.7L247.7,300.4L247.5,295.5L248.2,295.5ZM179.3,302.6L180.5,302.6L181.8,303.1L184.2,305.2L184.5,314.0L184.1,315.2L181.3,317.7L179.3,320.2L175.6,321.0L174.4,320.5L173.2,319.4L170.7,315.9L170.4,312.7L170.7,309.2L171.9,306.5L173.6,305.3L179.3,302.6Z"/><path fill="#8a2a1c" fill-rule="evenodd" d="M179.3,305.2L180.8,305.3L182.1,306.6L182.2,314.0L179.3,317.2L178.1,317.8L175.6,317.6L173.1,315.2L172.8,311.5L173.2,310.3L174.4,308.8L179.3,305.2ZM109.2,318.9L110.4,318.7L111.7,319.4L114.1,322.4L116.1,323.8L117.0,325.0L117.5,327.5L117.3,330.0L116.6,331.6L114.1,333.7L111.7,336.5L110.4,336.8L109.0,334.9L107.5,328.7L107.6,321.4L108.0,320.1L109.2,318.9Z"/></g>
<g fill="none" stroke="#1a1a1a" stroke-width="0.9" clip-path="url(#fc)"><path d="M62.3,333.2C63.2,340.7 66.4,364.6 67.9,378.1C69.5,391.7 70.6,404.5 71.6,414.5C72.6,424.5 73.2,428.8 74.0,438.0C74.8,447.2 75.1,460.1 76.2,470.0C77.3,479.9 79.3,490.1 80.7,497.4C82.1,504.7 83.2,509.7 84.4,513.8C85.6,517.9 86.6,521.4 88.0,522.0C89.4,522.6 90.8,519.1 92.6,517.4C94.4,515.7 96.1,514.6 99.0,512.0C101.9,509.4 106.2,504.9 109.9,502.0C113.6,499.1 116.6,497.8 120.9,494.6C125.2,491.4 131.8,484.5 135.5,482.8C139.2,481.1 139.8,483.7 142.8,484.6C145.8,485.5 150.5,487.9 153.7,488.2C156.9,488.4 157.0,486.5 162.0,486.1C167.0,485.8 176.4,486.1 183.6,486.1C190.8,486.1 199.4,485.8 205.1,486.1C210.8,486.4 214.4,487.3 218.0,487.8C221.6,488.3 221.7,487.7 226.7,488.9C231.7,490.1 242.8,494.4 248.2,494.9C253.6,495.4 255.4,493.8 259.0,492.1C262.6,490.5 266.6,485.7 269.8,485.0C273.0,484.3 275.8,486.1 278.4,487.8C281.0,489.5 284.3,494.1 285.5,495.4"/><path d="M64.3,298.0C65.1,300.4 67.7,307.3 69.1,312.6C70.5,317.9 71.9,324.2 72.8,329.6C73.7,335.0 73.9,338.9 74.5,345.0C75.1,351.1 75.5,358.5 76.4,366.0C77.3,373.5 78.8,382.1 80.0,390.2C81.2,398.3 82.5,408.4 83.7,414.5C84.9,420.6 85.3,424.4 87.3,426.6C89.3,428.8 90.7,428.7 95.8,427.9C100.9,427.1 112.0,424.4 117.7,421.8C123.4,419.2 126.6,415.8 129.8,412.1C133.0,408.5 135.1,403.5 137.1,399.9C139.1,396.2 140.0,393.2 142.0,390.2C144.0,387.2 145.9,382.7 149.2,381.7C152.5,380.7 157.0,384.1 162.0,384.4C167.0,384.7 174.4,383.5 179.3,383.5C184.2,383.5 187.2,384.2 191.5,384.4C195.8,384.5 201.6,384.0 205.3,384.4C209.1,384.8 210.8,385.3 214.0,387.0C217.2,388.7 220.9,392.8 224.4,394.8C227.9,396.8 231.3,398.8 234.8,399.1C238.3,399.4 242.0,398.1 245.2,396.5C248.4,394.9 251.1,392.5 253.9,389.6C256.7,386.7 259.4,382.9 262.0,379.2C264.6,375.5 267.0,368.4 269.4,367.3C271.8,366.2 273.6,369.6 276.3,372.5C279.0,375.4 284.0,382.6 285.5,384.6"/><path d="M76.0,298.0C76.9,300.2 79.2,307.5 81.2,311.2C83.2,314.9 85.6,317.1 88.1,320.2C90.6,323.3 93.6,326.7 96.4,329.9C99.2,333.1 101.9,336.6 104.7,339.6C107.5,342.6 110.0,345.4 113.0,347.9C116.0,350.4 119.5,352.9 122.8,354.8C126.0,356.7 129.5,358.5 132.5,359.0C135.5,359.5 138.0,358.8 140.8,357.6C143.6,356.5 146.4,353.7 149.1,352.1C151.8,350.5 154.2,348.8 157.0,347.8C159.8,346.8 162.8,346.2 166.0,346.1C169.2,346.0 172.6,348.0 176.0,346.9C179.4,345.8 182.7,339.8 186.7,339.5C190.7,339.2 195.3,342.6 200.0,345.4C204.7,348.1 209.8,352.6 215.0,356.0C220.2,359.4 225.2,365.9 231.0,365.5C236.8,365.1 245.3,357.8 250.0,353.8C254.7,349.8 255.8,346.6 259.0,341.3C262.2,336.0 264.6,323.3 269.0,322.0C273.4,320.7 282.8,331.6 285.5,333.5"/><path d="M90.9,298.0C91.8,299.4 94.1,303.3 96.4,306.3C98.7,309.3 101.9,312.8 104.7,316.0C107.5,319.2 110.0,322.2 113.0,325.7C116.0,329.2 119.5,333.6 122.8,336.8C126.0,340.0 129.6,343.4 132.5,345.1C135.4,346.8 137.0,347.2 140.0,347.0C143.0,346.8 147.7,345.0 150.5,343.8C153.3,342.6 154.4,341.4 157.0,339.6C159.6,337.8 162.8,334.6 166.0,333.0C169.2,331.4 172.6,331.7 176.0,330.0C179.4,328.3 182.7,322.5 186.7,322.9C190.7,323.3 195.3,329.2 200.0,332.4C204.7,335.6 209.8,339.7 215.0,342.0C220.2,344.3 225.2,348.0 231.0,346.0C236.8,344.0 245.3,333.7 250.0,330.0C254.7,326.3 255.8,326.0 259.0,324.0C262.2,322.0 264.6,319.0 269.0,318.0C273.4,317.0 282.8,317.9 285.5,317.9"/><path d="M97.1,298.0C98.4,299.4 102.0,303.3 104.7,306.3C107.4,309.3 110.2,312.8 113.0,316.0C115.8,319.2 118.6,322.7 121.4,325.7C124.2,328.7 127.2,331.7 129.7,334.0C132.2,336.3 133.4,339.1 136.6,339.6C139.8,340.1 145.7,338.0 149.1,336.8C152.5,335.6 154.2,334.3 157.0,332.7C159.8,331.1 162.8,328.4 166.0,327.0C169.2,325.6 172.6,325.2 176.0,324.0C179.4,322.8 182.7,319.6 186.7,319.6C190.7,319.6 195.3,322.1 200.0,324.0C204.7,325.9 209.8,328.8 215.0,331.0C220.2,333.2 225.2,339.2 231.0,337.0C236.8,334.8 245.3,321.8 250.0,318.0C254.7,314.2 255.8,315.0 259.0,314.0C262.2,313.0 264.6,312.5 269.0,312.0C273.4,311.5 282.8,311.2 285.5,311.0"/><path d="M103.3,298.0C104.5,299.1 107.8,302.3 110.3,304.9C112.8,307.4 115.8,310.3 118.6,313.3C121.4,316.3 124.4,320.2 126.9,323.0C129.4,325.8 131.5,328.3 133.8,329.9C136.1,331.5 138.2,332.5 140.8,332.7C143.4,332.9 146.4,332.2 149.1,331.3C151.8,330.4 154.2,328.7 157.0,327.1C159.8,325.6 162.8,323.4 166.0,322.0C169.2,320.6 172.6,320.0 176.0,319.0C179.4,318.0 182.7,316.2 186.7,316.2C190.7,316.2 195.3,317.3 200.0,318.8C204.7,320.3 209.8,323.1 215.0,325.0C220.2,326.9 225.2,332.8 231.0,330.5C236.8,328.2 245.3,314.7 250.0,311.0C254.7,307.3 255.8,309.2 259.0,308.5C262.2,307.8 264.6,306.9 269.0,306.5C273.4,306.1 282.8,306.1 285.5,306.0"/><path d="M110.3,298.0C111.7,299.4 116.1,303.5 118.6,306.3C121.1,309.1 123.2,311.8 125.5,314.6C127.8,317.4 130.4,320.9 132.5,323.0C134.6,325.1 135.7,326.2 138.0,327.1C140.3,328.0 143.1,329.2 146.3,328.5C149.5,327.8 153.7,324.8 157.0,323.0C160.3,321.2 162.8,319.3 166.0,318.0C169.2,316.7 172.6,315.7 176.0,315.0C179.4,314.3 182.7,313.8 186.7,313.8C190.7,313.8 195.3,314.0 200.0,314.9C204.7,315.8 209.8,317.7 215.0,319.0C220.2,320.3 225.2,324.9 231.0,322.7C236.8,320.5 245.3,309.1 250.0,306.0C254.7,302.9 255.8,304.6 259.0,304.0C262.2,303.4 264.6,302.8 269.0,302.5C273.4,302.2 282.8,302.1 285.5,302.0"/><path d="M115.8,298.0C117.0,299.1 120.5,302.3 122.8,304.9C125.1,307.4 127.4,310.8 129.7,313.3C132.0,315.9 134.3,318.4 136.6,320.2C138.9,322.0 141.0,323.8 143.6,324.3C146.2,324.8 149.7,323.7 151.9,323.0C154.1,322.3 154.7,321.5 157.0,320.2C159.3,318.9 162.8,316.5 166.0,315.0C169.2,313.5 172.6,311.6 176.0,311.0C179.4,310.4 182.7,311.2 186.7,311.3C190.7,311.4 195.3,311.2 200.0,311.6C204.7,312.1 209.8,313.2 215.0,314.0C220.2,314.8 225.2,318.2 231.0,316.2C236.8,314.2 245.3,304.6 250.0,302.0C254.7,299.4 255.8,300.9 259.0,300.5C262.2,300.1 264.6,299.7 269.0,299.5C273.4,299.3 282.8,299.3 285.5,299.3"/><path d="M121.4,298.0C122.8,299.4 127.2,303.5 129.7,306.3C132.2,309.1 134.5,312.5 136.6,314.6C138.7,316.7 140.1,317.9 142.2,318.8C144.3,319.7 146.6,320.4 149.1,320.2C151.6,320.0 154.2,318.8 157.0,317.4C159.8,316.0 162.8,313.6 166.0,312.0C169.2,310.4 172.6,308.0 176.0,307.5C179.4,307.0 182.7,308.7 186.7,308.8C190.7,308.9 195.3,308.3 200.0,308.4C204.7,308.5 209.8,309.3 215.0,309.5C220.2,309.7 223.2,311.6 231.0,309.7C238.8,307.8 256.8,300.1 262.0,298.2"/><path d="M126.9,298.0C128.3,299.4 132.6,303.8 135.2,306.3C137.8,308.9 139.9,311.7 142.2,313.3C144.5,314.9 146.6,315.8 149.1,316.0C151.6,316.2 154.2,315.8 157.0,314.6C159.8,313.4 162.8,310.8 166.0,309.0C169.2,307.2 172.6,304.4 176.0,304.0C179.4,303.6 182.7,306.1 186.7,306.3C190.7,306.5 195.3,305.3 200.0,305.1C204.7,304.9 207.5,306.1 215.0,305.0C222.5,303.9 240.0,299.3 245.0,298.2"/><path d="M132.5,298.0C133.7,299.1 137.1,302.8 139.4,304.9C141.7,307.0 143.4,309.3 146.3,310.5C149.2,311.7 153.7,312.6 157.0,311.9C160.3,311.1 162.8,307.7 166.0,306.0C169.2,304.3 172.6,301.9 176.0,301.5C179.4,301.1 182.7,303.7 186.7,303.8C190.7,303.9 193.6,302.8 200.0,301.9C206.4,301.0 220.8,298.8 225.0,298.2"/><path d="M138.0,298.0C139.2,298.9 141.7,301.6 144.9,303.5C148.1,305.4 153.5,309.0 157.0,309.1C160.5,309.2 162.8,305.6 166.0,304.0C169.2,302.4 172.6,299.9 176.0,299.5C179.4,299.1 182.7,301.3 186.7,301.3C190.7,301.3 195.3,300.0 200.0,299.5C204.7,299.0 212.5,298.5 215.0,298.3"/><path d="M144.9,298.0C146.9,299.1 153.5,304.4 157.0,304.9C160.5,305.4 162.8,302.1 166.0,301.0C169.2,299.9 172.6,298.8 176.0,298.5C179.4,298.2 182.7,299.1 186.7,299.0C190.7,298.9 197.8,298.3 200.0,298.2"/></g><g transform="translate(73.8,348) rotate(80)"><rect x="-7.75" y="-4.25" width="15.5" height="8.5" fill="#fff"/><text x="0" y="2.74" font-size="7.6" text-anchor="middle">27.2</text></g><g transform="translate(143.8,346) rotate(-22)"><rect x="-7.75" y="-4.25" width="15.5" height="8.5" fill="#fff"/><text x="0" y="2.74" font-size="7.6" text-anchor="middle">26.4</text></g><g transform="translate(172.5,315.2) rotate(0)"><rect x="-7.75" y="-4.25" width="15.5" height="8.5" fill="#fff"/><text x="0" y="2.74" font-size="7.6" text-anchor="middle">25.6</text></g><g transform="translate(142.2,389.5) rotate(-62)"><rect x="-7.75" y="-4.25" width="15.5" height="8.5" fill="#fff"/><text x="0" y="2.74" font-size="7.6" text-anchor="middle">27.2</text></g>
<rect x="303.7" y="300.40" width="14" height="15.84" fill="#8a2a1c" stroke="#1a1a1a" stroke-width="0.8"/><rect x="303.7" y="316.24" width="14" height="15.84" fill="#c4460c" stroke="#1a1a1a" stroke-width="0.8"/><rect x="303.7" y="332.08" width="14" height="15.84" fill="#e8761c" stroke="#1a1a1a" stroke-width="0.8"/><rect x="303.7" y="347.92" width="14" height="15.84" fill="#f3ae40" stroke="#1a1a1a" stroke-width="0.8"/><rect x="303.7" y="363.76" width="14" height="15.84" fill="#fbd86a" stroke="#1a1a1a" stroke-width="0.8"/><rect x="303.7" y="379.60" width="14" height="15.84" fill="#fdf0a6" stroke="#1a1a1a" stroke-width="0.8"/><rect x="303.7" y="395.44" width="14" height="15.84" fill="#c6e7f1" stroke="#1a1a1a" stroke-width="0.8"/><rect x="303.7" y="411.28" width="14" height="15.84" fill="#9dd0e2" stroke="#1a1a1a" stroke-width="0.8"/><rect x="303.7" y="427.12" width="14" height="15.84" fill="#6cb2d6" stroke="#1a1a1a" stroke-width="0.8"/><rect x="303.7" y="442.96" width="14" height="15.84" fill="#3a88c4" stroke="#1a1a1a" stroke-width="0.8"/><rect x="303.7" y="458.80" width="14" height="15.84" fill="#0e58a0" stroke="#1a1a1a" stroke-width="0.8"/><rect x="303.7" y="474.64" width="14" height="15.84" fill="#0c2c5e" stroke="#1a1a1a" stroke-width="0.8"/><text x="334" y="320.44" font-size="11.6" text-anchor="middle">0.6</text><text x="334" y="336.28" font-size="11.6" text-anchor="middle">0.4</text><text x="334" y="352.12" font-size="11.6" text-anchor="middle">0.2</text><text x="334" y="367.96" font-size="11.6" text-anchor="middle">0.15</text><text x="334" y="383.80" font-size="11.6" text-anchor="middle">0.1</text><text x="334" y="399.64" font-size="11.6" text-anchor="middle">0</text><text x="334" y="415.48" font-size="11.6" text-anchor="middle">-0.1</text><text x="334" y="431.32" font-size="11.6" text-anchor="middle">-0.15</text><text x="334" y="447.16" font-size="11.6" text-anchor="middle">-0.2</text><text x="334" y="463.00" font-size="11.6" text-anchor="middle">-0.4</text><text x="334" y="478.84" font-size="11.6" text-anchor="middle">-0.6</text><text x="305.3" y="522.9" font-size="17.5" letter-spacing="-0.9">°C.d<tspan dy="-8" font-size="9">-1</tspan></text>
<clipPath id="fd"><rect x="365.0" y="298.0" width="150.6" height="236.7"/></clipPath><g clip-path="url(#fd)"><rect x="365.0" y="298.0" width="150.6" height="236.7" fill="#fdf0a6"/><path fill="#c6e7f1" fill-rule="evenodd" d="M446.8,295.5L459.0,295.5L458.7,312.7L458.9,328.7L458.0,331.2L455.5,333.7L454.8,334.9L452.9,340.4L452.2,341.1L452.2,342.3L452.9,347.9L453.6,362.0L453.6,410.0L454.9,416.2L455.0,418.6L455.0,540.5L450.0,540.5L449.8,525.7L449.2,524.5L448.0,523.6L445.6,523.1L445.1,523.3L445.0,524.5L445.0,540.5L440.0,540.5L440.0,524.5L439.9,523.3L439.4,523.1L437.0,523.6L435.9,524.5L435.2,525.7L435.0,540.5L420.0,540.5L420.0,408.8L421.4,398.9L421.3,376.8L420.1,370.6L420.0,366.9L421.3,359.5L421.5,352.1L422.3,350.1L424.8,348.2L427.2,345.2L428.5,344.6L434.6,344.4L437.0,344.7L440.7,348.5L443.1,349.0L444.4,348.4L447.7,344.7L450.8,342.3L451.3,341.1L449.6,334.9L446.8,331.2L446.3,330.0L446.4,295.5L446.8,295.5ZM441.0,519.6L440.1,522.0L440.7,522.9L444.3,522.9L444.9,522.0L444.0,519.6L443.1,518.9L441.9,518.9L441.0,519.6ZM496.9,295.5L522.5,295.5L522.5,302.2L517.6,302.1L511.5,300.9L506.6,302.2L504.9,304.1L504.0,307.8L503.4,316.4L502.7,321.4L502.7,325.0L503.5,331.2L503.0,334.9L501.7,334.9L498.1,331.2L497.6,330.0L497.4,325.0L496.5,320.1L495.8,300.4L495.8,295.5L496.9,295.5ZM501.7,350.3L503.2,350.9L504.2,353.5L504.9,357.1L505.0,371.8L504.2,372.9L503.0,372.7L501.2,371.8L500.3,370.6L500.1,369.4L500.1,352.1L500.7,350.9L501.7,350.3ZM505.4,373.1L507.8,373.5L509.1,374.3L509.7,375.5L510.0,378.0L509.7,380.4L509.1,381.6L507.8,382.3L506.6,382.1L505.3,380.4L505.0,374.3L505.4,373.1ZM472.4,409.5L473.6,410.2L474.1,411.2L474.3,416.2L474.1,424.8L473.6,425.8L472.4,426.5L471.2,425.6L470.9,424.8L470.7,418.6L470.9,411.2L471.2,410.4L472.4,409.5ZM506.6,409.9L507.8,409.7L508.3,410.0L509.1,411.1L509.3,412.5L509.2,419.8L508.8,421.1L507.8,421.6L506.6,421.1L505.8,418.6L505.8,412.5L506.6,409.9ZM511.5,424.5L512.7,424.4L513.2,424.8L514.0,425.7L514.2,427.2L514.2,434.6L513.5,435.9L512.7,436.4L511.4,435.9L510.8,433.4L510.9,426.0L511.5,424.5ZM466.3,455.1L467.5,454.4L468.8,455.2L469.2,456.8L469.2,474.0L468.8,475.7L467.5,476.5L466.3,475.8L465.8,474.0L465.7,458.0L466.3,455.1ZM476.1,460.5L477.3,459.5L478.5,460.0L479.2,461.7L479.2,478.9L478.5,480.9L477.3,481.5L476.1,480.4L475.8,478.9L475.7,462.9L476.1,460.5ZM511.5,465.0L512.7,464.6L513.8,465.4L514.3,467.9L514.3,540.5L510.8,540.5L510.8,467.9L511.5,465.0ZM391.8,514.8L393.0,514.7L393.9,515.9L394.2,517.1L394.3,528.6L393.7,530.7L393.0,531.3L391.8,531.2L391.3,530.7L390.8,528.2L390.8,517.1L391.8,514.8ZM476.1,525.6L477.3,524.5L478.5,525.1L479.2,527.0L479.2,540.5L475.7,540.5L475.7,528.2L476.1,525.6Z"/><path fill="#9dd0e2" fill-rule="evenodd" d="M448.0,295.5L457.8,295.5L457.6,328.7L457.3,330.0L454.2,333.7L452.9,336.5L451.7,336.4L450.4,333.7L448.0,330.6L447.5,328.7L447.4,295.5L448.0,295.5ZM496.9,295.5L510.0,295.5L510.0,298.0L509.6,299.2L505.4,301.7L503.8,304.1L502.5,310.3L501.7,317.0L499.3,321.0L498.1,319.7L496.9,310.3L496.9,295.5ZM514.0,295.5L522.5,295.5L522.5,301.4L517.6,301.2L515.0,300.4L513.8,299.2L513.5,298.0L513.5,295.5L514.0,295.5ZM430.9,354.3L432.1,353.7L433.3,353.8L434.3,354.6L435.1,355.8L436.7,360.8L437.5,362.0L438.2,362.6L443.1,363.5L444.3,364.4L449.2,369.4L449.9,371.8L449.8,405.1L449.2,406.4L448.0,407.5L441.9,408.6L438.2,412.2L437.0,412.2L435.7,411.2L433.8,401.4L433.4,376.8L432.9,375.5L432.1,375.0L430.9,375.1L430.4,375.5L430.1,376.8L429.8,395.2L428.5,397.1L427.2,397.3L425.8,396.5L425.1,394.0L425.1,374.3L425.3,373.1L427.2,372.6L428.4,370.6L428.8,359.5L429.7,356.2L430.9,354.3ZM423.6,364.3L424.7,365.7L425.0,366.9L424.8,372.5L423.6,372.3L422.3,370.6L422.3,365.7L423.6,364.3Z"/><path fill="#6cb2d6" fill-rule="evenodd" d="M449.2,295.5L456.1,295.5L455.9,326.3L455.3,329.0L452.9,332.0L451.7,331.7L450.2,330.0L449.5,328.7L449.1,326.3L449.0,295.5L449.2,295.5ZM498.1,295.5L505.0,295.5L504.8,299.2L502.7,302.9L501.7,306.7L500.5,309.3L499.3,310.8L498.1,307.4L498.1,295.5ZM516.4,295.5L522.5,295.5L522.5,300.2L518.8,300.1L516.7,299.2L516.4,295.5ZM432.1,360.4L433.3,361.0L434.9,366.9L434.6,370.5L433.3,371.1L432.1,370.6L431.7,369.4L431.6,363.2L432.1,360.4ZM441.9,369.0L443.1,369.2L444.1,370.6L443.7,371.8L443.1,372.3L440.7,372.9L440.1,371.8L440.3,370.6L441.9,369.0ZM437.0,374.0L438.2,373.3L439.4,373.1L439.9,374.3L439.9,398.9L439.4,400.9L438.2,401.8L437.0,400.9L436.6,398.9L436.6,376.8L437.0,374.0Z"/><path fill="#3a88c4" fill-rule="evenodd" d="M451.7,295.5L453.3,295.5L453.3,322.6L452.9,325.4L451.7,323.8L451.7,295.5Z"/><path fill="#fbd86a" fill-rule="evenodd" d="M363.7,295.5L370.0,295.5L370.1,299.2L371.0,303.5L372.3,306.4L373.5,306.4L374.5,305.3L374.9,304.1L375.0,295.5L445.4,295.5L445.8,309.0L445.2,330.0L445.6,331.4L448.3,334.9L448.7,336.1L448.6,339.8L448.0,341.1L443.1,345.5L441.9,345.5L439.4,343.3L437.0,341.9L429.7,341.7L427.2,342.2L425.3,343.5L420.4,348.4L418.9,350.9L418.1,366.9L418.6,376.8L418.6,398.9L418.1,401.4L415.4,405.1L415.1,406.3L414.9,419.8L414.5,421.1L411.9,424.8L410.8,428.5L410.5,430.9L411.2,435.9L410.8,438.3L409.8,440.8L408.9,441.9L407.7,442.4L406.5,442.1L402.8,439.0L401.6,439.0L399.1,441.6L397.9,442.3L396.7,442.2L395.4,440.8L394.7,430.9L393.9,429.7L391.3,427.2L390.1,424.8L389.9,392.8L389.6,390.3L388.1,388.8L386.9,388.8L383.3,392.2L382.0,392.3L380.8,391.5L380.1,389.1L379.7,375.5L379.1,374.3L376.0,371.8L375.3,370.6L374.8,360.8L374.2,359.5L371.3,357.1L370.4,355.8L369.7,346.0L368.9,344.7L367.4,343.4L366.2,343.1L362.5,343.0L362.5,295.5L363.7,295.5ZM460.2,295.5L495.0,295.5L495.9,330.0L496.5,332.4L499.3,337.1L500.5,338.4L501.7,339.0L504.2,338.6L505.4,337.5L506.3,334.9L506.2,331.2L504.5,326.3L504.0,321.4L504.8,307.8L505.2,305.3L505.9,304.1L507.8,302.7L511.5,302.1L517.6,302.9L522.5,303.0L522.5,353.0L518.8,353.0L516.4,352.1L515.2,349.9L514.8,346.0L514.3,344.7L512.7,343.7L511.5,344.0L510.3,345.7L509.9,349.7L509.1,351.5L507.8,351.8L505.4,348.4L503.0,346.9L500.5,347.0L497.3,348.4L495.3,350.9L494.4,356.1L490.7,359.6L490.2,360.8L489.5,366.0L488.9,366.9L485.9,369.4L485.2,370.6L484.7,385.4L483.4,387.2L481.0,387.9L480.4,387.8L480.0,386.6L479.8,375.5L478.5,373.7L476.0,371.8L475.1,369.4L474.8,350.9L473.6,349.0L472.4,348.6L471.2,349.1L465.4,355.8L464.7,365.7L463.9,367.0L460.9,369.4L460.2,370.6L459.9,408.8L459.3,411.2L457.8,411.8L456.7,410.0L456.5,408.8L456.4,362.0L455.1,355.8L454.3,342.3L454.9,338.6L455.9,334.9L459.0,331.8L459.8,330.0L460.0,321.4L459.6,311.5L460.2,295.5ZM477.3,388.5L479.8,388.3L479.9,389.1L479.0,391.5L477.3,392.3L476.0,391.5L475.7,390.3L476.3,389.1L477.3,388.5Z"/><path fill="#f3ae40" fill-rule="evenodd" d="M380.8,295.5L444.6,295.5L445.0,309.0L444.1,330.0L444.7,332.4L447.1,336.1L446.8,338.1L445.6,339.7L443.1,341.6L441.9,341.6L438.2,338.9L435.8,338.0L433.3,338.1L428.5,339.1L424.8,340.6L418.7,346.5L413.8,352.1L411.1,354.6L410.1,356.8L409.6,360.8L407.6,363.2L406.5,365.4L405.3,370.6L405.2,373.0L407.7,373.4L408.9,374.2L409.7,375.5L410.2,380.4L411.3,385.4L411.3,391.5L411.3,405.1L410.1,411.2L409.8,419.8L408.1,426.0L406.5,427.6L405.2,427.7L405.1,427.2L405.0,412.5L403.3,403.8L403.3,386.6L404.9,379.2L405.0,374.3L404.0,373.3L402.8,373.9L401.8,375.5L401.5,376.8L401.5,405.1L400.1,411.2L399.9,427.2L399.1,427.8L397.9,427.5L396.0,426.0L395.1,423.5L395.0,412.5L393.7,405.1L393.4,378.0L393.0,375.8L391.8,375.1L390.6,375.7L390.1,376.8L389.7,380.4L388.9,381.7L388.1,382.2L386.9,382.2L385.7,381.3L385.1,379.2L385.0,368.1L384.6,365.7L381.1,362.0L380.4,360.8L379.6,355.8L375.4,350.9L374.7,346.0L370.2,339.8L369.9,336.1L368.2,330.0L367.4,328.7L366.2,328.1L362.5,328.0L362.5,303.0L366.2,303.1L367.4,303.7L368.4,305.3L370.1,310.3L371.0,311.4L372.3,312.0L373.5,311.7L377.7,307.8L379.6,305.3L380.0,302.9L380.0,295.5L380.8,295.5ZM461.4,295.5L494.2,295.5L494.9,325.0L494.5,330.0L495.9,337.4L494.7,344.7L493.2,346.8L492.0,347.1L490.7,346.4L488.3,343.6L485.9,341.6L485.1,339.8L484.5,336.1L483.4,335.2L482.2,334.8L481.0,335.2L478.5,337.2L476.1,337.9L475.1,337.4L474.9,332.4L474.6,331.2L472.8,330.0L471.2,330.2L467.5,333.5L466.8,334.9L466.1,342.3L465.2,346.0L464.8,349.7L464.2,350.9L459.0,356.5L457.8,356.3L457.3,354.6L455.8,346.0L455.7,341.1L456.5,336.0L457.8,334.3L460.0,332.4L461.0,330.0L461.0,321.4L460.5,311.5L461.0,304.1L461.1,295.5L461.4,295.5ZM507.8,303.7L511.5,303.1L522.5,303.8L522.5,333.0L512.7,332.8L510.3,331.3L506.6,327.5L505.7,325.0L505.1,321.4L505.5,310.3L506.1,305.3L507.8,303.7ZM472.4,338.4L473.6,338.2L474.9,338.6L474.3,341.1L473.6,341.9L472.4,342.4L470.8,341.1L470.8,339.8L472.4,338.4ZM482.2,358.8L483.9,359.5L484.2,360.8L483.4,362.0L482.2,362.3L480.7,360.8L481.0,359.5L482.2,358.8ZM400.4,428.1L404.0,428.0L404.9,428.5L404.9,432.2L404.0,432.8L401.6,432.1L400.6,430.9L400.2,429.7L400.4,428.1ZM406.5,433.5L407.7,434.6L407.7,436.0L406.5,436.2L405.5,434.6L406.5,433.5Z"/><path fill="#e8761c" fill-rule="evenodd" d="M385.7,295.5L443.6,295.5L444.2,309.0L443.6,316.4L443.5,325.0L442.6,331.2L443.5,334.9L443.5,336.1L443.1,336.6L441.9,336.7L438.2,333.6L435.8,333.0L433.3,333.1L431.6,333.7L428.3,336.1L422.3,338.1L421.1,338.9L406.5,353.6L402.8,358.8L402.4,360.8L403.3,365.7L402.8,367.2L399.5,371.8L398.4,375.5L398.3,402.6L397.9,405.4L396.7,403.8L396.6,376.8L396.1,374.3L394.3,372.4L390.6,370.4L389.4,364.7L385.7,360.8L384.3,354.6L380.8,350.9L380.2,349.7L379.4,344.7L375.9,341.1L375.3,339.8L374.5,334.9L371.9,331.2L369.7,325.0L368.6,323.8L367.4,323.2L362.5,323.0L362.5,313.0L367.4,313.4L371.0,316.9L372.3,317.4L373.5,317.2L382.7,307.8L384.6,305.3L385.0,302.9L385.0,295.5L385.7,295.5ZM462.7,295.5L493.4,295.5L493.9,309.0L493.7,325.0L492.8,331.2L493.1,334.9L492.0,336.8L490.7,336.4L488.3,333.5L485.9,332.3L481.6,331.2L478.5,328.7L476.1,327.4L472.4,326.8L468.7,327.5L466.3,328.8L464.5,331.2L463.7,334.9L463.2,341.1L462.7,342.2L459.0,346.4L457.8,345.6L457.6,344.7L457.6,337.4L458.2,336.1L461.4,333.7L462.3,332.4L462.5,331.2L462.3,321.4L461.5,316.4L461.3,312.7L462.3,304.1L462.4,295.5L462.7,295.5ZM507.8,304.8L511.5,304.2L522.5,304.6L522.5,328.0L512.7,327.8L509.1,326.8L507.8,326.0L506.6,323.1L506.2,320.1L506.5,307.8L506.7,306.6L507.8,304.8ZM407.7,385.1L408.2,386.6L408.3,391.5L408.3,403.8L407.7,405.8L406.7,403.8L406.7,395.2L406.7,387.8L406.8,386.6L407.7,385.1Z"/><path fill="#c4460c" fill-rule="evenodd" d="M395.5,295.5L442.2,295.5L442.3,300.4L443.3,306.6L443.2,311.5L442.2,316.4L441.9,324.9L440.7,326.0L438.2,323.7L435.8,323.1L435.0,323.8L434.3,326.3L433.3,327.2L432.1,327.8L428.5,328.2L427.2,328.7L423.6,332.2L421.1,333.0L418.7,333.0L416.8,332.4L412.6,328.5L410.1,328.0L407.7,328.2L406.5,328.8L402.8,333.3L401.5,336.1L401.3,353.4L400.2,359.5L399.9,364.4L399.1,366.1L397.9,367.0L396.7,367.1L395.5,366.2L394.6,364.4L393.9,362.0L393.6,358.3L393.5,307.8L393.8,304.1L395.0,299.2L395.0,295.5L395.5,295.5ZM432.2,320.1L432.2,321.4L433.3,322.6L434.6,322.7L434.7,321.4L434.3,320.1L433.3,319.3L432.2,320.1ZM465.1,295.5L492.1,295.5L492.2,300.4L493.1,305.3L493.2,309.0L492.0,325.3L490.7,326.1L488.3,323.7L485.9,323.0L467.5,322.8L466.3,322.2L465.1,321.0L463.9,319.2L462.8,316.4L462.5,312.7L462.7,310.0L464.9,300.4L465.1,295.5ZM509.1,305.9L511.5,305.6L522.5,305.9L522.5,318.0L512.7,318.2L511.3,318.9L509.1,321.3L507.8,319.7L507.7,312.7L507.8,307.5L508.2,306.6L509.1,305.9ZM388.1,308.9L389.6,310.3L390.0,312.7L390.0,338.6L389.4,341.2L388.1,342.2L386.9,342.2L385.6,341.1L384.5,334.9L380.8,331.5L380.2,330.0L380.0,317.7L380.7,315.2L381.8,314.0L386.9,309.1L388.1,308.9Z"/><path fill="#8a2a1c" fill-rule="evenodd" d="M397.9,303.6L400.4,303.0L422.3,303.2L423.9,304.1L426.0,306.8L428.8,309.0L429.6,310.3L430.0,312.7L429.8,315.2L428.6,320.1L427.5,322.6L422.3,327.6L418.7,327.9L416.2,326.5L413.8,323.9L411.4,322.2L408.9,319.1L405.7,316.4L405.2,315.2L404.9,311.5L404.0,309.4L402.8,308.7L401.6,308.9L400.4,310.3L400.0,312.7L399.9,328.7L398.3,336.1L398.3,353.4L397.9,358.1L396.7,357.4L396.7,357.1L396.5,307.8L396.7,305.3L397.9,303.6ZM467.5,303.8L470.0,303.0L488.3,303.0L490.7,303.4L491.8,305.3L492.0,307.8L491.9,310.3L490.7,314.0L489.3,316.4L487.1,317.8L470.0,318.0L467.5,317.5L466.2,316.4L465.4,315.2L465.1,312.7L466.3,306.2L467.5,303.8ZM440.7,305.4L441.4,307.8L441.3,309.0L440.7,310.5L440.2,307.8L440.7,305.4Z"/></g>
<g fill="none" stroke="#1a1a1a" stroke-width="0.9" clip-path="url(#fd)"><path d="M365.0,310.5C365.9,311.4 368.5,312.3 370.3,316.0C372.1,319.7 374.3,326.9 375.9,332.7C377.5,338.5 378.6,344.9 380.0,350.7C381.4,356.5 382.6,357.8 384.2,367.3C385.8,376.8 387.8,393.4 389.7,407.7C391.6,422.0 393.8,442.3 395.3,453.0C396.9,463.7 397.6,467.4 399.0,472.0C400.4,476.6 400.5,480.8 403.4,480.8C406.3,480.8 411.3,476.4 416.4,472.1C421.4,467.8 428.9,459.3 433.7,454.8C438.5,450.3 441.8,446.2 445.3,445.1C448.9,444.0 451.8,448.6 455.0,447.9C458.2,447.2 460.8,443.4 464.7,440.9C468.6,438.3 474.0,434.1 478.6,432.6C483.2,431.1 486.3,431.9 492.5,431.9C498.7,431.9 511.8,432.5 515.6,432.6"/><path d="M381.4,298.0C381.9,299.9 383.0,304.5 384.2,309.1C385.4,313.7 386.9,320.1 388.3,325.7C389.7,331.2 391.2,336.6 392.5,342.4C393.8,348.2 395.1,354.5 396.0,360.4C396.9,366.3 397.0,372.4 398.0,378.0C399.0,383.6 401.0,390.4 402.2,393.8C403.4,397.2 403.9,397.7 405.0,398.6C406.1,399.5 407.4,399.3 409.0,399.3C410.6,399.3 411.4,399.3 414.7,398.6C418.0,397.9 424.9,397.1 428.6,395.2C432.3,393.2 434.0,390.6 437.0,386.9C440.0,383.2 443.2,377.6 446.7,373.0C450.2,368.4 452.5,361.6 457.8,359.0C463.1,356.4 469.0,358.1 478.6,357.6C488.2,357.1 509.4,356.4 515.6,356.2"/><path d="M395.3,298.0C396.2,299.1 398.7,303.0 400.8,304.9C402.9,306.8 405.5,307.9 407.8,309.1C410.1,310.3 412.6,310.5 414.7,311.9C416.8,313.3 418.3,315.1 420.2,317.4C422.1,319.7 423.5,322.7 425.8,325.7C428.1,328.7 431.4,333.3 434.1,335.4C436.8,337.5 439.2,338.9 442.0,338.5C444.8,338.1 448.0,334.6 450.9,332.7C453.8,330.8 455.7,328.3 459.2,327.1C462.7,325.9 467.3,325.9 471.7,325.7C476.1,325.5 480.9,326.1 485.5,325.7C490.1,325.2 494.4,323.9 499.4,323.0C504.4,322.1 512.9,320.7 515.6,320.2"/><path d="M410.5,298.0C411.7,298.9 415.2,300.9 417.5,303.5C419.8,306.1 422.1,310.1 424.4,313.3C426.7,316.6 429.2,320.2 431.3,323.0C433.4,325.8 433.6,329.7 436.9,329.9C440.2,330.1 446.3,325.9 450.9,324.3C455.5,322.7 460.1,321.0 464.7,320.2C469.3,319.4 474.0,320.0 478.6,319.5C483.2,319.0 486.3,318.2 492.5,317.4C498.7,316.6 511.8,315.1 515.6,314.6"/><path d="M420.2,298.0C421.1,299.1 423.9,302.1 425.8,304.9C427.7,307.7 429.5,311.8 431.3,314.6C433.1,317.4 433.6,320.9 436.9,321.6C440.2,322.3 446.3,319.7 450.9,318.8C455.5,317.9 453.9,317.1 464.7,316.0C475.5,314.9 507.1,312.6 515.6,311.9"/><path d="M425.8,298.0C426.9,299.4 430.6,303.5 432.7,306.3C434.8,309.1 435.4,313.3 438.3,314.6C441.2,315.9 443.1,314.6 450.0,314.0C456.9,313.4 469.1,311.8 480.0,311.0C490.9,310.2 509.7,309.4 515.6,309.1"/><path d="M431.3,298.0C432.2,299.1 435.1,302.8 436.9,304.9C438.7,307.0 438.1,309.8 442.0,310.5C445.9,311.2 447.7,309.7 460.0,309.0C472.3,308.3 506.3,306.9 515.6,306.5"/><path d="M435.5,298.0C436.6,298.9 437.9,302.4 442.0,303.5C446.1,304.6 447.7,304.5 460.0,304.5C472.3,304.5 506.3,303.7 515.6,303.5"/><path d="M440.0,298.5C443.3,298.9 447.4,300.6 460.0,301.0C472.6,301.4 506.3,300.8 515.6,300.8"/></g><g transform="translate(409.5,400.5)"><rect x="-5.5" y="-4.2" width="11" height="8.4" fill="#fff"/><text x="0" y="2.7" font-size="7.6" text-anchor="middle">27</text></g>
<rect x="57.0" y="6.5" width="236.7" height="236.7" fill="none" stroke="#000" stroke-width="1.4"/>
<rect x="359.8" y="6.5" width="236.7" height="236.7" fill="none" stroke="#000" stroke-width="1.4"/>
<rect x="57.0" y="298.0" width="236.7" height="236.7" fill="none" stroke="#000" stroke-width="1.4"/>
<rect x="359.8" y="298.0" width="236.7" height="236.7" fill="none" stroke="#000" stroke-width="1.4"/>
<path d="M57.00,243.20v3.5M57.00,6.50v-3.5M68.83,243.20v3.5M68.83,6.50v-3.5M80.67,243.20v6.5M80.67,6.50v-6.5M92.50,243.20v3.5M92.50,6.50v-3.5M104.34,243.20v3.5M104.34,6.50v-3.5M116.17,243.20v3.5M116.17,6.50v-3.5M128.01,243.20v6.5M128.01,6.50v-6.5M139.84,243.20v3.5M139.84,6.50v-3.5M151.68,243.20v3.5M151.68,6.50v-3.5M163.51,243.20v3.5M163.51,6.50v-3.5M175.35,243.20v6.5M175.35,6.50v-6.5M187.19,243.20v3.5M187.19,6.50v-3.5M199.02,243.20v3.5M199.02,6.50v-3.5M210.85,243.20v3.5M210.85,6.50v-3.5M222.69,243.20v6.5M222.69,6.50v-6.5M234.53,243.20v3.5M234.53,6.50v-3.5M246.36,243.20v3.5M246.36,6.50v-3.5M258.19,243.20v3.5M258.19,6.50v-3.5M270.03,243.20v6.5M270.03,6.50v-6.5M281.87,243.20v3.5M281.87,6.50v-3.5M293.70,243.20v3.5M293.70,6.50v-3.5M57.00,243.20h-6.5M293.70,243.20h6.5M57.00,231.36h-3.5M293.70,231.36h3.5M57.00,219.53h-3.5M293.70,219.53h3.5M57.00,207.69h-3.5M293.70,207.69h3.5M57.00,195.86h-3.5M293.70,195.86h3.5M57.00,184.02h-6.5M293.70,184.02h6.5M57.00,172.19h-3.5M293.70,172.19h3.5M57.00,160.35h-3.5M293.70,160.35h3.5M57.00,148.52h-3.5M293.70,148.52h3.5M57.00,136.69h-3.5M293.70,136.69h3.5M57.00,124.85h-6.5M293.70,124.85h6.5M57.00,113.01h-3.5M293.70,113.01h3.5M57.00,101.18h-3.5M293.70,101.18h3.5M57.00,89.34h-3.5M293.70,89.34h3.5M57.00,77.51h-3.5M293.70,77.51h3.5M57.00,65.68h-6.5M293.70,65.68h6.5M57.00,53.84h-3.5M293.70,53.84h3.5M57.00,42.00h-3.5M293.70,42.00h3.5M57.00,30.17h-3.5M293.70,30.17h3.5M57.00,18.33h-3.5M293.70,18.33h3.5M57.00,6.50h-6.5M293.70,6.50h6.5" stroke="#000" stroke-width="1.1" fill="none"/>
<text x="80.67" y="265.6" font-size="11" text-anchor="middle">2006.0</text>
<text x="128.01" y="265.6" font-size="11" text-anchor="middle">2008.0</text>
<text x="175.35" y="265.6" font-size="11" text-anchor="middle">2010.0</text>
<text x="222.69" y="265.6" font-size="11" text-anchor="middle">2012.0</text>
<text x="270.03" y="265.6" font-size="11" text-anchor="middle">2014.0</text>
<text x="43.80" y="10.80" font-size="11" text-anchor="end">2.0</text>
<text x="43.80" y="69.98" font-size="11" text-anchor="end">1.0</text>
<text x="43.80" y="129.15" font-size="11" text-anchor="end">0.0</text>
<text x="43.80" y="188.32" font-size="11" text-anchor="end">-1.0</text>
<text x="43.80" y="247.50" font-size="11" text-anchor="end">-2.0</text>
<text x="175.35" y="283.4" font-size="13.6" text-anchor="middle">Time (yr)</text>
<path d="M359.80,243.20v3.5M359.80,6.50v-3.5M371.63,243.20v3.5M371.63,6.50v-3.5M383.47,243.20v6.5M383.47,6.50v-6.5M395.31,243.20v3.5M395.31,6.50v-3.5M407.14,243.20v3.5M407.14,6.50v-3.5M418.98,243.20v3.5M418.98,6.50v-3.5M430.81,243.20v6.5M430.81,6.50v-6.5M442.64,243.20v3.5M442.64,6.50v-3.5M454.48,243.20v3.5M454.48,6.50v-3.5M466.31,243.20v3.5M466.31,6.50v-3.5M478.15,243.20v6.5M478.15,6.50v-6.5M489.99,243.20v3.5M489.99,6.50v-3.5M501.82,243.20v3.5M501.82,6.50v-3.5M513.65,243.20v3.5M513.65,6.50v-3.5M525.49,243.20v6.5M525.49,6.50v-6.5M537.33,243.20v3.5M537.33,6.50v-3.5M549.16,243.20v3.5M549.16,6.50v-3.5M561.00,243.20v3.5M561.00,6.50v-3.5M572.83,243.20v6.5M572.83,6.50v-6.5M584.66,243.20v3.5M584.66,6.50v-3.5M596.50,243.20v3.5M596.50,6.50v-3.5M359.80,243.20h-6.5M596.50,243.20h6.5M359.80,231.36h-3.5M596.50,231.36h3.5M359.80,219.53h-3.5M596.50,219.53h3.5M359.80,207.69h-3.5M596.50,207.69h3.5M359.80,195.86h-3.5M596.50,195.86h3.5M359.80,184.02h-6.5M596.50,184.02h6.5M359.80,172.19h-3.5M596.50,172.19h3.5M359.80,160.35h-3.5M596.50,160.35h3.5M359.80,148.52h-3.5M596.50,148.52h3.5M359.80,136.69h-3.5M596.50,136.69h3.5M359.80,124.85h-6.5M596.50,124.85h6.5M359.80,113.01h-3.5M596.50,113.01h3.5M359.80,101.18h-3.5M596.50,101.18h3.5M359.80,89.34h-3.5M596.50,89.34h3.5M359.80,77.51h-3.5M596.50,77.51h3.5M359.80,65.68h-6.5M596.50,65.68h6.5M359.80,53.84h-3.5M596.50,53.84h3.5M359.80,42.00h-3.5M596.50,42.00h3.5M359.80,30.17h-3.5M596.50,30.17h3.5M359.80,18.33h-3.5M596.50,18.33h3.5M359.80,6.50h-6.5M596.50,6.50h6.5" stroke="#000" stroke-width="1.1" fill="none"/>
<text x="383.47" y="265.6" font-size="11" text-anchor="middle">2006.0</text>
<text x="430.81" y="265.6" font-size="11" text-anchor="middle">2008.0</text>
<text x="478.15" y="265.6" font-size="11" text-anchor="middle">2010.0</text>
<text x="525.49" y="265.6" font-size="11" text-anchor="middle">2012.0</text>
<text x="572.83" y="265.6" font-size="11" text-anchor="middle">2014.0</text>
<text x="346.60" y="10.80" font-size="11" text-anchor="end">2.0</text>
<text x="346.60" y="69.98" font-size="11" text-anchor="end">1.0</text>
<text x="346.60" y="129.15" font-size="11" text-anchor="end">0.0</text>
<text x="346.60" y="188.32" font-size="11" text-anchor="end">-1.0</text>
<text x="346.60" y="247.50" font-size="11" text-anchor="end">-2.0</text>
<text x="478.15" y="283.4" font-size="13.6" text-anchor="middle">Time (yr)</text>
<path d="M65.31,534.70v6.5M65.31,298.00v-6.5M83.65,534.70v3.5M83.65,298.00v-3.5M101.99,534.70v3.5M101.99,298.00v-3.5M120.33,534.70v6.5M120.33,298.00v-6.5M138.67,534.70v3.5M138.67,298.00v-3.5M157.01,534.70v3.5M157.01,298.00v-3.5M175.35,534.70v6.5M175.35,298.00v-6.5M193.69,534.70v3.5M193.69,298.00v-3.5M212.03,534.70v3.5M212.03,298.00v-3.5M230.37,534.70v6.5M230.37,298.00v-6.5M248.71,534.70v3.5M248.71,298.00v-3.5M267.05,534.70v3.5M267.05,298.00v-3.5M285.39,534.70v6.5M285.39,298.00v-6.5M57.00,310.00h-3.5M57.00,322.00h-3.5M57.00,334.00h-6.5M57.00,346.00h-3.5M57.00,358.00h-3.5M57.00,370.00h-6.5M57.00,382.00h-3.5M57.00,394.00h-3.5M57.00,406.00h-6.5M57.00,418.00h-3.5M57.00,430.00h-3.5M57.00,442.00h-6.5M57.00,454.00h-3.5M57.00,466.00h-3.5M57.00,478.00h-6.5M57.00,490.00h-3.5M57.00,502.00h-3.5M57.00,514.00h-6.5M57.00,526.00h-3.5" stroke="#000" stroke-width="1.1" fill="none"/>
<text x="65.31" y="557.3" font-size="11" text-anchor="middle">-60</text>
<text x="120.33" y="557.3" font-size="11" text-anchor="middle">-30</text>
<text x="175.35" y="557.3" font-size="11" text-anchor="middle">0</text>
<text x="230.37" y="557.3" font-size="11" text-anchor="middle">30</text>
<text x="285.39" y="557.3" font-size="11" text-anchor="middle">60</text>
<text x="43.50" y="338.00" font-size="11" text-anchor="end">300</text>
<text x="43.50" y="374.00" font-size="11" text-anchor="end">600</text>
<text x="43.50" y="410.00" font-size="11" text-anchor="end">900</text>
<text x="43.50" y="446.00" font-size="11" text-anchor="end">1200</text>
<text x="43.50" y="482.00" font-size="11" text-anchor="end">1500</text>
<text x="43.50" y="518.00" font-size="11" text-anchor="end">1800</text>
<text x="175.35" y="576" font-size="13.6" text-anchor="middle">Lat</text>
<path d="M368.11,534.70v6.5M368.11,298.00v-6.5M386.45,534.70v3.5M386.45,298.00v-3.5M404.79,534.70v3.5M404.79,298.00v-3.5M423.13,534.70v6.5M423.13,298.00v-6.5M441.47,534.70v3.5M441.47,298.00v-3.5M459.81,534.70v3.5M459.81,298.00v-3.5M478.15,534.70v6.5M478.15,298.00v-6.5M496.49,534.70v3.5M496.49,298.00v-3.5M514.83,534.70v3.5M514.83,298.00v-3.5M533.17,534.70v6.5M533.17,298.00v-6.5M551.51,534.70v3.5M551.51,298.00v-3.5M569.85,534.70v3.5M569.85,298.00v-3.5M588.19,534.70v6.5M588.19,298.00v-6.5M359.80,310.00h-3.5M359.80,322.00h-3.5M359.80,334.00h-6.5M359.80,346.00h-3.5M359.80,358.00h-3.5M359.80,370.00h-6.5M359.80,382.00h-3.5M359.80,394.00h-3.5M359.80,406.00h-6.5M359.80,418.00h-3.5M359.80,430.00h-3.5M359.80,442.00h-6.5M359.80,454.00h-3.5M359.80,466.00h-3.5M359.80,478.00h-6.5M359.80,490.00h-3.5M359.80,502.00h-3.5M359.80,514.00h-6.5M359.80,526.00h-3.5" stroke="#000" stroke-width="1.1" fill="none"/>
<text x="368.11" y="557.3" font-size="11" text-anchor="middle">-60</text>
<text x="423.13" y="557.3" font-size="11" text-anchor="middle">-30</text>
<text x="478.15" y="557.3" font-size="11" text-anchor="middle">0</text>
<text x="533.17" y="557.3" font-size="11" text-anchor="middle">30</text>
<text x="588.19" y="557.3" font-size="11" text-anchor="middle">60</text>
<text x="478.15" y="576" font-size="13.6" text-anchor="middle">Lat</text>
<text x="22" y="283" font-size="21">a)</text>
<text x="325" y="283" font-size="21">b)</text>
<text x="22" y="567.5" font-size="21">c)</text>
<text x="325" y="567.5" font-size="21">d)</text>
<text transform="translate(16.6,123.8) rotate(-90)" font-size="13.6" text-anchor="middle">Ocean Heat Content (10<tspan dy="-4.5" font-size="9">22</tspan><tspan dy="4.5">J)</tspan></text>
<text transform="translate(10.2,416) rotate(-90)" font-size="13" text-anchor="middle">Depth (m)</text>
</svg></body></html>
